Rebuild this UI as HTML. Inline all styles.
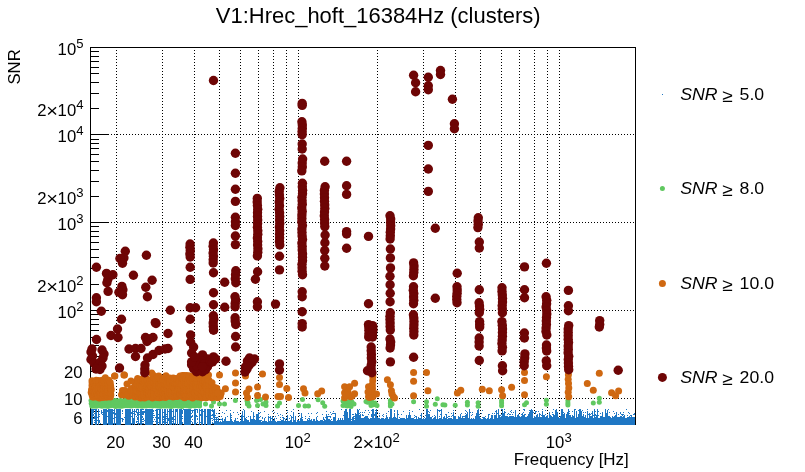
<!DOCTYPE html>
<html lang="en"><head><meta charset="utf-8"><title>V1:Hrec_hoft_16384Hz (clusters)</title>
<style>html,body{margin:0;padding:0;background:#fff;overflow:hidden}svg{display:block}</style></head>
<body>
<svg width="805" height="472" viewBox="0 0 805 472" style="display:block">
<rect width="805" height="472" fill="#fff"/>
<path d="M116.5 47V424 M162.5 47V424 M194.5 47V424 M219.5 47V424 M240.5 47V424 M258.5 47V424 M273.5 47V424 M286.5 47V424 M298.5 47V424 M377.5 47V424 M423.5 47V424 M455.5 47V424 M480.5 47V424 M501.5 47V424 M519.5 47V424 M534.5 47V424 M547.5 47V424 M559.5 47V424 M90 398.5H635 M90 310.5H635 M90 222.5H635 M90 134.5H635" stroke="#000" stroke-width="1" stroke-dasharray="1 2" fill="none" shape-rendering="crispEdges"/>
<rect x="90.5" y="47.5" width="545" height="377" fill="none" stroke="#000" stroke-width="1" shape-rendering="crispEdges"/>
<path d="M90 398.5h18 M90 371.5h9 M90 356.5h9 M90 345.5h9 M90 337.5h9 M90 330.5h9 M90 324.5h9 M90 319.5h9 M90 314.5h9 M90 310.5h18 M90 284.5h9 M90 268.5h9 M90 257.5h9 M90 249.5h9 M90 242.5h9 M90 236.5h9 M90 231.5h9 M90 226.5h9 M90 222.5h18 M90 196.5h9 M90 181.5h9 M90 170.5h9 M90 161.5h9 M90 154.5h9 M90 148.5h9 M90 143.5h9 M90 139.5h9 M90 134.5h18 M90 108.5h9 M90 93.5h9 M90 82.5h9 M90 73.5h9 M90 67.5h9 M90 61.5h9 M90 56.5h9 M90 51.5h9 M90 47.5h18 M90 417.5h9 M90 411.5h9 M90 406.5h9 M90 402.5h9" stroke="#000" stroke-width="1" fill="none" shape-rendering="crispEdges"/>
<path d="M91 409h1v16h-1zM92 409h1v16h-1zM93 409h1v1h-1zM93 410h1v1h-1zM93 411h1v1h-1zM93 412h1v1h-1zM93 414h1v1h-1zM93 415h1v1h-1zM93 418h1v1h-1zM94 409h1v1h-1zM94 413h1v1h-1zM94 416h1v1h-1zM94 417h1v1h-1zM94 418h1v1h-1zM94 420h1v1h-1zM94 422h1v1h-1zM95 409h1v16h-1zM96 409h1v16h-1zM97 417h1v1h-1zM97 420h1v1h-1zM98 409h1v16h-1zM99 411h1v1h-1zM99 414h1v1h-1zM99 416h1v1h-1zM99 420h1v1h-1zM99 421h1v1h-1zM99 422h1v1h-1zM100 423h1v1h-1zM101 410h1v1h-1zM101 411h1v1h-1zM101 412h1v1h-1zM101 413h1v1h-1zM102 412h1v1h-1zM102 414h1v1h-1zM103 409h1v16h-1zM104 409h1v16h-1zM105 409h1v16h-1zM106 409h1v16h-1zM107 410h1v1h-1zM107 411h1v1h-1zM107 416h1v1h-1zM107 423h1v1h-1zM108 409h1v16h-1zM109 409h1v16h-1zM110 409h1v16h-1zM111 409h1v16h-1zM112 409h1v16h-1zM113 410h1v1h-1zM113 412h1v1h-1zM113 413h1v1h-1zM113 418h1v1h-1zM113 423h1v1h-1zM114 409h1v16h-1zM115 413h1v1h-1zM115 414h1v1h-1zM115 417h1v1h-1zM115 423h1v1h-1zM116 409h1v16h-1zM117 409h1v16h-1zM118 409h1v16h-1zM119 409h1v16h-1zM120 409h1v16h-1zM121 418h1v1h-1zM122 410h1v1h-1zM122 411h1v1h-1zM122 413h1v1h-1zM122 418h1v1h-1zM122 419h1v1h-1zM122 420h1v1h-1zM122 421h1v1h-1zM123 419h1v1h-1zM124 417h1v1h-1zM125 409h1v16h-1zM126 409h1v16h-1zM127 409h1v16h-1zM128 409h1v16h-1zM129 409h1v16h-1zM130 409h1v16h-1zM131 412h1v1h-1zM131 413h1v1h-1zM131 416h1v1h-1zM131 423h1v1h-1zM132 409h1v16h-1zM133 411h1v1h-1zM133 413h1v1h-1zM133 418h1v1h-1zM133 419h1v1h-1zM133 420h1v1h-1zM133 421h1v1h-1zM133 422h1v1h-1zM133 423h1v1h-1zM134 409h1v16h-1zM135 411h1v1h-1zM135 414h1v1h-1zM136 409h1v1h-1zM136 410h1v1h-1zM136 411h1v1h-1zM136 412h1v1h-1zM136 416h1v1h-1zM136 421h1v1h-1zM136 422h1v1h-1zM137 409h1v1h-1zM137 412h1v1h-1zM137 413h1v1h-1zM137 414h1v1h-1zM137 415h1v1h-1zM137 417h1v1h-1zM137 418h1v1h-1zM137 419h1v1h-1zM137 421h1v1h-1zM137 423h1v1h-1zM138 409h1v16h-1zM139 412h1v1h-1zM139 414h1v1h-1zM139 423h1v1h-1zM140 409h1v16h-1zM141 409h1v16h-1zM142 409h1v1h-1zM142 411h1v1h-1zM142 412h1v1h-1zM142 413h1v1h-1zM142 414h1v1h-1zM142 416h1v1h-1zM142 417h1v1h-1zM142 419h1v1h-1zM142 421h1v1h-1zM142 423h1v1h-1zM143 409h1v1h-1zM143 411h1v1h-1zM143 412h1v1h-1zM143 413h1v1h-1zM143 414h1v1h-1zM143 418h1v1h-1zM143 419h1v1h-1zM143 421h1v1h-1zM143 423h1v1h-1zM144 411h1v1h-1zM144 412h1v1h-1zM144 420h1v1h-1zM145 409h1v16h-1zM146 409h1v16h-1zM147 409h1v16h-1zM148 409h1v16h-1zM149 409h1v16h-1zM150 409h1v16h-1zM151 409h1v16h-1zM152 409h1v16h-1zM153 410h1v1h-1zM153 411h1v1h-1zM153 413h1v1h-1zM153 415h1v1h-1zM153 417h1v1h-1zM153 421h1v1h-1zM154 415h1v1h-1zM154 419h1v1h-1zM155 410h1v1h-1zM155 417h1v1h-1zM155 421h1v1h-1zM156 409h1v16h-1zM157 409h1v16h-1zM158 409h1v1h-1zM158 414h1v1h-1zM158 417h1v1h-1zM158 418h1v1h-1zM158 422h1v1h-1zM159 409h1v16h-1zM160 409h1v16h-1zM162 409h1v16h-1zM163 412h1v1h-1zM163 416h1v1h-1zM163 417h1v1h-1zM163 419h1v1h-1zM163 421h1v1h-1zM163 422h1v1h-1zM164 409h1v16h-1zM165 409h1v16h-1zM166 414h1v1h-1zM166 416h1v1h-1zM166 418h1v1h-1zM166 422h1v1h-1zM167 409h1v16h-1zM168 411h1v1h-1zM168 418h1v1h-1zM168 419h1v1h-1zM168 420h1v1h-1zM169 409h1v16h-1zM170 409h1v16h-1zM171 409h1v16h-1zM172 411h1v1h-1zM172 417h1v1h-1zM172 418h1v1h-1zM172 419h1v1h-1zM172 421h1v1h-1zM172 423h1v1h-1zM173 409h1v16h-1zM174 416h1v1h-1zM174 419h1v1h-1zM174 423h1v1h-1zM175 409h1v16h-1zM176 409h1v1h-1zM176 410h1v1h-1zM176 411h1v1h-1zM177 409h1v16h-1zM179 409h1v16h-1zM180 409h1v16h-1zM181 409h1v16h-1zM182 410h1v1h-1zM182 411h1v1h-1zM182 412h1v1h-1zM182 413h1v1h-1zM182 416h1v1h-1zM182 418h1v1h-1zM182 422h1v1h-1zM182 423h1v1h-1zM183 409h1v1h-1zM184 409h1v16h-1zM185 409h1v16h-1zM186 409h1v16h-1zM187 409h1v16h-1zM188 409h1v16h-1zM189 409h1v16h-1zM190 409h1v16h-1zM191 410h1v1h-1zM191 413h1v1h-1zM191 416h1v1h-1zM191 417h1v1h-1zM191 421h1v1h-1zM192 410h1v1h-1zM192 411h1v1h-1zM192 412h1v1h-1zM192 415h1v1h-1zM192 416h1v1h-1zM192 419h1v1h-1zM192 422h1v1h-1zM192 423h1v1h-1zM193 410h1v1h-1zM194 409h1v16h-1zM195 409h1v16h-1zM196 409h1v1h-1zM196 415h1v1h-1zM196 416h1v1h-1zM196 423h1v1h-1zM197 409h1v1h-1zM197 410h1v1h-1zM197 411h1v1h-1zM197 412h1v1h-1zM197 416h1v1h-1zM197 418h1v1h-1zM197 419h1v1h-1zM197 422h1v1h-1zM199 409h1v16h-1zM200 410h1v1h-1zM200 414h1v1h-1zM200 415h1v1h-1zM200 422h1v1h-1zM201 409h1v16h-1zM202 409h1v16h-1zM203 411h1v1h-1zM204 409h1v16h-1zM205 409h1v16h-1zM206 416h1v1h-1zM207 409h1v16h-1zM208 409h1v16h-1zM209 409h1v16h-1zM210 409h1v16h-1zM211 410h1v1h-1zM211 415h1v1h-1zM211 418h1v1h-1zM212 409h1v1h-1zM212 410h1v1h-1zM212 411h1v1h-1zM212 414h1v1h-1zM212 415h1v1h-1zM212 418h1v1h-1zM212 420h1v1h-1zM212 422h1v1h-1zM212 423h1v1h-1zM213 410h1v1h-1zM213 411h1v1h-1zM213 412h1v1h-1zM213 413h1v1h-1zM213 414h1v1h-1zM213 415h1v1h-1zM213 416h1v1h-1zM213 417h1v1h-1zM213 419h1v1h-1zM213 423h1v1h-1zM214 409h1v16h-1zM215 421h1v4h-1zM215 415h1v1h-1zM215 417h1v1h-1zM215 419h1v1h-1zM216 417h1v8h-1zM216 413h1v1h-1zM217 421h1v4h-1zM217 417h1v1h-1zM217 419h1v1h-1zM218 418h1v7h-1zM218 413h1v1h-1zM218 416h1v1h-1zM219 422h1v3h-1zM220 421h1v4h-1zM220 419h1v1h-1zM221 422h1v3h-1zM221 416h1v1h-1zM221 419h1v1h-1zM222 419h1v6h-1zM222 412h1v1h-1zM222 418h1v1h-1zM223 422h1v3h-1zM223 421h1v1h-1zM224 419h1v6h-1zM224 413h1v1h-1zM225 418h1v7h-1zM225 417h1v1h-1zM226 421h1v4h-1zM226 410h1v1h-1zM227 421h1v4h-1zM227 416h1v1h-1zM228 421h1v4h-1zM229 421h1v4h-1zM230 414h1v11h-1zM230 410h1v1h-1zM230 413h1v1h-1zM231 419h1v6h-1zM231 415h1v1h-1zM231 417h1v1h-1zM232 421h1v4h-1zM233 422h1v3h-1zM233 412h1v1h-1zM234 421h1v4h-1zM234 420h1v1h-1zM235 418h1v7h-1zM236 421h1v4h-1zM237 421h1v4h-1zM237 412h1v1h-1zM237 418h1v1h-1zM238 421h1v4h-1zM238 414h1v1h-1zM239 422h1v3h-1zM240 421h1v4h-1zM241 416h1v9h-1zM241 415h1v1h-1zM242 412h1v13h-1zM242 411h1v1h-1zM243 421h1v4h-1zM243 409h1v1h-1zM243 416h1v1h-1zM244 412h1v13h-1zM244 410h1v1h-1zM244 411h1v1h-1zM245 421h1v4h-1zM245 418h1v1h-1zM245 419h1v1h-1zM245 420h1v1h-1zM246 419h1v6h-1zM246 417h1v1h-1zM247 420h1v5h-1zM248 420h1v5h-1zM248 416h1v1h-1zM249 422h1v3h-1zM250 416h1v9h-1zM251 419h1v6h-1zM251 411h1v1h-1zM252 421h1v4h-1zM252 419h1v1h-1zM252 420h1v1h-1zM253 412h1v13h-1zM254 419h1v6h-1zM254 416h1v1h-1zM255 421h1v4h-1zM255 420h1v1h-1zM256 414h1v11h-1zM257 414h1v11h-1zM258 413h1v12h-1zM258 412h1v1h-1zM259 421h1v4h-1zM259 413h1v1h-1zM259 417h1v1h-1zM259 420h1v1h-1zM260 421h1v4h-1zM260 412h1v1h-1zM260 416h1v1h-1zM260 420h1v1h-1zM261 422h1v3h-1zM261 420h1v1h-1zM262 421h1v4h-1zM262 417h1v1h-1zM262 418h1v1h-1zM263 421h1v4h-1zM264 420h1v5h-1zM264 411h1v1h-1zM264 418h1v1h-1zM264 419h1v1h-1zM265 421h1v4h-1zM265 417h1v1h-1zM266 421h1v4h-1zM267 422h1v3h-1zM268 416h1v9h-1zM268 414h1v1h-1zM269 421h1v4h-1zM269 417h1v1h-1zM270 416h1v9h-1zM271 421h1v4h-1zM271 418h1v1h-1zM272 416h1v9h-1zM272 411h1v1h-1zM273 421h1v4h-1zM273 420h1v1h-1zM274 418h1v7h-1zM274 412h1v1h-1zM275 421h1v4h-1zM275 416h1v1h-1zM276 422h1v3h-1zM276 418h1v1h-1zM277 421h1v4h-1zM277 413h1v1h-1zM278 421h1v4h-1zM278 415h1v1h-1zM279 421h1v4h-1zM280 421h1v4h-1zM280 414h1v1h-1zM280 417h1v1h-1zM280 419h1v1h-1zM281 422h1v3h-1zM281 420h1v1h-1zM281 421h1v1h-1zM282 421h1v4h-1zM282 415h1v1h-1zM282 417h1v1h-1zM282 420h1v1h-1zM283 418h1v7h-1zM283 417h1v1h-1zM284 421h1v4h-1zM284 418h1v1h-1zM285 421h1v4h-1zM285 419h1v1h-1zM285 420h1v1h-1zM286 422h1v3h-1zM286 418h1v1h-1zM286 421h1v1h-1zM287 415h1v10h-1zM287 410h1v1h-1zM287 412h1v1h-1zM288 421h1v4h-1zM289 421h1v4h-1zM289 418h1v1h-1zM290 420h1v5h-1zM290 415h1v1h-1zM291 416h1v9h-1zM291 411h1v1h-1zM292 422h1v3h-1zM292 417h1v1h-1zM293 412h1v13h-1zM293 409h1v1h-1zM294 420h1v5h-1zM295 416h1v9h-1zM296 422h1v3h-1zM297 421h1v4h-1zM297 420h1v1h-1zM298 421h1v4h-1zM298 420h1v1h-1zM299 421h1v4h-1zM299 413h1v1h-1zM299 415h1v1h-1zM300 419h1v6h-1zM300 418h1v1h-1zM301 414h1v11h-1zM301 413h1v1h-1zM302 420h1v5h-1zM302 417h1v1h-1zM302 419h1v1h-1zM303 421h1v4h-1zM304 421h1v4h-1zM305 421h1v4h-1zM305 416h1v1h-1zM305 418h1v1h-1zM306 421h1v4h-1zM307 420h1v5h-1zM307 419h1v1h-1zM308 420h1v5h-1zM308 413h1v1h-1zM308 418h1v1h-1zM309 418h1v7h-1zM309 416h1v1h-1zM310 420h1v5h-1zM311 420h1v5h-1zM311 413h1v1h-1zM311 419h1v1h-1zM312 421h1v4h-1zM313 420h1v5h-1zM313 419h1v1h-1zM314 419h1v6h-1zM315 421h1v4h-1zM316 417h1v8h-1zM316 413h1v1h-1zM317 420h1v5h-1zM317 412h1v1h-1zM317 416h1v1h-1zM318 421h1v4h-1zM319 421h1v4h-1zM320 420h1v5h-1zM321 420h1v5h-1zM322 420h1v5h-1zM322 414h1v1h-1zM323 421h1v4h-1zM323 417h1v1h-1zM323 418h1v1h-1zM323 419h1v1h-1zM324 420h1v5h-1zM324 419h1v1h-1zM325 420h1v5h-1zM325 417h1v1h-1zM326 414h1v11h-1zM326 411h1v1h-1zM327 417h1v8h-1zM327 416h1v1h-1zM328 419h1v6h-1zM328 414h1v1h-1zM328 416h1v1h-1zM329 420h1v5h-1zM329 416h1v1h-1zM329 419h1v1h-1zM330 420h1v5h-1zM330 412h1v1h-1zM330 416h1v1h-1zM330 417h1v1h-1zM331 421h1v4h-1zM331 414h1v1h-1zM331 419h1v1h-1zM332 421h1v4h-1zM332 413h1v1h-1zM333 418h1v7h-1zM333 411h1v1h-1zM333 413h1v1h-1zM333 417h1v1h-1zM334 418h1v7h-1zM334 413h1v1h-1zM334 417h1v1h-1zM335 415h1v10h-1zM335 413h1v1h-1zM335 414h1v1h-1zM336 421h1v4h-1zM337 421h1v4h-1zM337 420h1v1h-1zM338 420h1v5h-1zM338 418h1v1h-1zM338 419h1v1h-1zM339 420h1v5h-1zM340 420h1v5h-1zM340 418h1v1h-1zM340 419h1v1h-1zM341 421h1v4h-1zM341 409h1v1h-1zM341 420h1v1h-1zM342 421h1v4h-1zM342 418h1v1h-1zM342 419h1v1h-1zM342 420h1v1h-1zM343 420h1v5h-1zM343 415h1v1h-1zM344 411h1v14h-1zM345 421h1v4h-1zM345 414h1v1h-1zM346 420h1v5h-1zM346 414h1v1h-1zM346 415h1v1h-1zM346 417h1v1h-1zM347 414h1v11h-1zM347 412h1v1h-1zM347 413h1v1h-1zM348 418h1v7h-1zM349 421h1v4h-1zM349 416h1v1h-1zM349 417h1v1h-1zM349 419h1v1h-1zM349 420h1v1h-1zM350 420h1v5h-1zM351 421h1v4h-1zM351 419h1v1h-1zM352 417h1v8h-1zM352 414h1v1h-1zM353 416h1v9h-1zM353 414h1v1h-1zM354 420h1v5h-1zM354 416h1v1h-1zM354 418h1v1h-1zM355 414h1v11h-1zM355 413h1v1h-1zM356 415h1v10h-1zM356 414h1v1h-1zM357 409h1v16h-1zM358 410h1v15h-1zM359 415h1v10h-1zM359 409h1v1h-1zM359 413h1v1h-1zM360 416h1v9h-1zM360 412h1v1h-1zM360 414h1v1h-1zM360 415h1v1h-1zM361 418h1v7h-1zM362 418h1v7h-1zM362 412h1v1h-1zM362 414h1v1h-1zM362 415h1v1h-1zM363 418h1v7h-1zM363 415h1v1h-1zM364 418h1v7h-1zM364 412h1v1h-1zM364 417h1v1h-1zM365 416h1v9h-1zM365 410h1v1h-1zM366 416h1v9h-1zM367 416h1v9h-1zM368 418h1v7h-1zM368 410h1v1h-1zM368 414h1v1h-1zM369 419h1v6h-1zM369 412h1v1h-1zM370 418h1v7h-1zM371 418h1v7h-1zM371 410h1v1h-1zM371 414h1v1h-1zM371 415h1v1h-1zM371 416h1v1h-1zM372 418h1v7h-1zM372 411h1v1h-1zM372 415h1v1h-1zM373 417h1v8h-1zM373 410h1v1h-1zM373 413h1v1h-1zM373 416h1v1h-1zM374 418h1v7h-1zM374 414h1v1h-1zM374 415h1v1h-1zM375 412h1v13h-1zM375 410h1v1h-1zM376 419h1v6h-1zM376 418h1v1h-1zM377 417h1v8h-1zM377 412h1v1h-1zM378 418h1v7h-1zM379 418h1v7h-1zM379 413h1v1h-1zM379 415h1v1h-1zM379 416h1v1h-1zM380 419h1v6h-1zM381 418h1v7h-1zM382 419h1v6h-1zM382 415h1v1h-1zM382 418h1v1h-1zM383 419h1v6h-1zM383 414h1v1h-1zM383 416h1v1h-1zM383 418h1v1h-1zM384 419h1v6h-1zM385 418h1v7h-1zM386 415h1v10h-1zM386 413h1v1h-1zM387 418h1v7h-1zM387 417h1v1h-1zM388 419h1v6h-1zM388 411h1v1h-1zM389 417h1v8h-1zM390 409h1v16h-1zM391 418h1v7h-1zM391 416h1v1h-1zM392 419h1v6h-1zM392 418h1v1h-1zM393 418h1v7h-1zM393 417h1v1h-1zM394 413h1v12h-1zM394 410h1v1h-1zM394 411h1v1h-1zM395 417h1v8h-1zM396 419h1v6h-1zM396 418h1v1h-1zM397 410h1v15h-1zM398 419h1v6h-1zM398 414h1v1h-1zM399 419h1v6h-1zM399 417h1v1h-1zM400 419h1v6h-1zM400 418h1v1h-1zM401 418h1v7h-1zM401 414h1v1h-1zM402 418h1v7h-1zM403 419h1v6h-1zM403 411h1v1h-1zM403 418h1v1h-1zM404 418h1v7h-1zM405 419h1v6h-1zM406 417h1v8h-1zM406 415h1v1h-1zM406 416h1v1h-1zM407 419h1v6h-1zM407 418h1v1h-1zM408 415h1v10h-1zM409 412h1v13h-1zM409 410h1v1h-1zM410 415h1v10h-1zM411 418h1v7h-1zM412 418h1v7h-1zM412 411h1v1h-1zM413 418h1v7h-1zM414 419h1v6h-1zM414 415h1v1h-1zM414 417h1v1h-1zM415 419h1v6h-1zM415 416h1v1h-1zM416 419h1v6h-1zM416 416h1v1h-1zM416 417h1v1h-1zM416 418h1v1h-1zM417 419h1v6h-1zM418 418h1v7h-1zM418 417h1v1h-1zM419 418h1v7h-1zM419 409h1v1h-1zM420 418h1v7h-1zM420 415h1v1h-1zM421 413h1v12h-1zM422 419h1v6h-1zM423 418h1v7h-1zM424 419h1v6h-1zM424 417h1v1h-1zM425 419h1v6h-1zM425 415h1v1h-1zM425 418h1v1h-1zM426 417h1v8h-1zM427 409h1v16h-1zM428 414h1v11h-1zM428 411h1v1h-1zM429 414h1v11h-1zM429 412h1v1h-1zM430 419h1v6h-1zM430 410h1v1h-1zM430 417h1v1h-1zM430 418h1v1h-1zM431 417h1v8h-1zM432 419h1v6h-1zM432 416h1v1h-1zM433 418h1v7h-1zM434 417h1v8h-1zM434 415h1v1h-1zM435 419h1v6h-1zM435 416h1v1h-1zM435 417h1v1h-1zM435 418h1v1h-1zM436 419h1v6h-1zM437 409h1v16h-1zM438 419h1v6h-1zM438 410h1v1h-1zM439 418h1v7h-1zM439 410h1v1h-1zM439 411h1v1h-1zM439 416h1v1h-1zM440 418h1v7h-1zM440 410h1v1h-1zM440 414h1v1h-1zM441 409h1v16h-1zM442 419h1v6h-1zM443 418h1v7h-1zM443 417h1v1h-1zM444 416h1v9h-1zM445 418h1v7h-1zM445 414h1v1h-1zM446 414h1v11h-1zM447 419h1v6h-1zM447 417h1v1h-1zM448 419h1v6h-1zM448 412h1v1h-1zM448 416h1v1h-1zM448 418h1v1h-1zM449 418h1v7h-1zM449 416h1v1h-1zM450 418h1v7h-1zM451 418h1v7h-1zM451 413h1v1h-1zM451 416h1v1h-1zM452 419h1v6h-1zM452 415h1v1h-1zM453 413h1v12h-1zM453 410h1v1h-1zM453 412h1v1h-1zM454 418h1v7h-1zM454 416h1v1h-1zM454 417h1v1h-1zM455 418h1v7h-1zM455 416h1v1h-1zM455 417h1v1h-1zM456 419h1v6h-1zM457 419h1v6h-1zM458 416h1v9h-1zM459 417h1v8h-1zM460 414h1v11h-1zM461 418h1v7h-1zM461 413h1v1h-1zM462 416h1v9h-1zM463 418h1v7h-1zM463 416h1v1h-1zM464 418h1v7h-1zM464 416h1v1h-1zM465 415h1v10h-1zM465 410h1v1h-1zM465 413h1v1h-1zM466 414h1v11h-1zM466 411h1v1h-1zM467 412h1v13h-1zM468 418h1v7h-1zM469 409h1v16h-1zM470 419h1v6h-1zM470 412h1v1h-1zM471 418h1v7h-1zM471 415h1v1h-1zM472 419h1v6h-1zM472 412h1v1h-1zM472 414h1v1h-1zM473 418h1v7h-1zM474 419h1v6h-1zM475 416h1v9h-1zM476 413h1v12h-1zM477 410h1v15h-1zM478 416h1v9h-1zM478 415h1v1h-1zM479 416h1v9h-1zM479 414h1v1h-1zM480 418h1v7h-1zM481 419h1v6h-1zM481 413h1v1h-1zM482 419h1v6h-1zM482 410h1v1h-1zM482 417h1v1h-1zM483 417h1v8h-1zM484 418h1v7h-1zM484 417h1v1h-1zM485 418h1v7h-1zM485 416h1v1h-1zM486 419h1v6h-1zM487 419h1v6h-1zM487 418h1v1h-1zM488 415h1v10h-1zM488 414h1v1h-1zM489 419h1v6h-1zM489 414h1v1h-1zM490 418h1v7h-1zM491 417h1v8h-1zM491 415h1v1h-1zM491 416h1v1h-1zM492 416h1v9h-1zM492 413h1v1h-1zM492 415h1v1h-1zM493 419h1v6h-1zM494 415h1v10h-1zM494 413h1v1h-1zM495 415h1v10h-1zM495 411h1v1h-1zM496 412h1v13h-1zM496 410h1v1h-1zM496 411h1v1h-1zM497 418h1v7h-1zM497 413h1v1h-1zM498 409h1v16h-1zM499 415h1v10h-1zM500 417h1v8h-1zM500 415h1v1h-1zM501 416h1v9h-1zM501 409h1v1h-1zM501 414h1v1h-1zM502 417h1v8h-1zM502 413h1v1h-1zM503 413h1v12h-1zM504 412h1v13h-1zM504 409h1v1h-1zM504 411h1v1h-1zM505 416h1v9h-1zM505 412h1v1h-1zM506 416h1v9h-1zM507 416h1v9h-1zM507 414h1v1h-1zM508 417h1v8h-1zM508 413h1v1h-1zM509 417h1v8h-1zM509 414h1v1h-1zM509 416h1v1h-1zM510 416h1v9h-1zM510 411h1v1h-1zM510 414h1v1h-1zM511 416h1v9h-1zM511 410h1v1h-1zM511 412h1v1h-1zM512 416h1v9h-1zM512 414h1v1h-1zM513 417h1v8h-1zM513 412h1v1h-1zM513 416h1v1h-1zM514 417h1v8h-1zM515 410h1v15h-1zM516 418h1v7h-1zM516 417h1v1h-1zM517 417h1v8h-1zM517 415h1v1h-1zM517 416h1v1h-1zM518 414h1v11h-1zM519 417h1v8h-1zM519 416h1v1h-1zM520 417h1v8h-1zM521 416h1v9h-1zM521 414h1v1h-1zM522 413h1v12h-1zM523 416h1v9h-1zM523 409h1v1h-1zM523 412h1v1h-1zM523 415h1v1h-1zM524 415h1v10h-1zM524 409h1v1h-1zM524 410h1v1h-1zM524 414h1v1h-1zM525 417h1v8h-1zM525 414h1v1h-1zM526 417h1v8h-1zM527 416h1v9h-1zM528 414h1v11h-1zM529 412h1v13h-1zM529 410h1v1h-1zM530 412h1v13h-1zM530 410h1v1h-1zM530 411h1v1h-1zM531 409h1v16h-1zM532 410h1v15h-1zM533 418h1v7h-1zM533 412h1v1h-1zM534 416h1v9h-1zM535 417h1v8h-1zM535 411h1v1h-1zM535 412h1v1h-1zM535 413h1v1h-1zM536 416h1v9h-1zM536 411h1v1h-1zM536 415h1v1h-1zM537 415h1v10h-1zM537 414h1v1h-1zM538 417h1v8h-1zM538 411h1v1h-1zM539 413h1v12h-1zM540 417h1v8h-1zM540 414h1v1h-1zM541 417h1v8h-1zM541 415h1v1h-1zM542 411h1v14h-1zM542 409h1v1h-1zM543 415h1v10h-1zM544 416h1v9h-1zM544 415h1v1h-1zM545 417h1v8h-1zM545 410h1v1h-1zM545 414h1v1h-1zM546 417h1v8h-1zM546 416h1v1h-1zM547 416h1v9h-1zM547 415h1v1h-1zM548 418h1v7h-1zM549 412h1v13h-1zM550 415h1v10h-1zM551 418h1v7h-1zM551 416h1v1h-1zM551 417h1v1h-1zM552 417h1v8h-1zM552 412h1v1h-1zM552 414h1v1h-1zM553 414h1v11h-1zM553 409h1v1h-1zM554 416h1v9h-1zM554 415h1v1h-1zM555 410h1v15h-1zM556 409h1v16h-1zM557 413h1v12h-1zM557 412h1v1h-1zM558 417h1v8h-1zM559 418h1v7h-1zM560 416h1v9h-1zM561 409h1v16h-1zM562 410h1v15h-1zM562 409h1v1h-1zM563 415h1v10h-1zM563 412h1v1h-1zM563 414h1v1h-1zM564 414h1v11h-1zM564 413h1v1h-1zM565 418h1v7h-1zM566 416h1v9h-1zM566 414h1v1h-1zM566 415h1v1h-1zM567 412h1v13h-1zM568 417h1v8h-1zM568 410h1v1h-1zM568 411h1v1h-1zM569 415h1v10h-1zM569 411h1v1h-1zM569 413h1v1h-1zM570 415h1v10h-1zM571 417h1v8h-1zM572 415h1v10h-1zM572 411h1v1h-1zM573 416h1v9h-1zM574 409h1v16h-1zM575 418h1v7h-1zM575 409h1v1h-1zM576 412h1v13h-1zM576 411h1v1h-1zM577 417h1v8h-1zM578 415h1v10h-1zM578 410h1v1h-1zM578 414h1v1h-1zM579 412h1v13h-1zM579 409h1v1h-1zM579 410h1v1h-1zM579 411h1v1h-1zM580 409h1v16h-1zM581 411h1v14h-1zM582 417h1v8h-1zM582 410h1v1h-1zM582 416h1v1h-1zM583 416h1v9h-1zM583 412h1v1h-1zM583 414h1v1h-1zM583 415h1v1h-1zM584 417h1v8h-1zM585 415h1v10h-1zM585 412h1v1h-1zM586 418h1v7h-1zM587 412h1v13h-1zM587 409h1v1h-1zM587 411h1v1h-1zM588 418h1v7h-1zM588 414h1v1h-1zM589 414h1v11h-1zM589 413h1v1h-1zM590 417h1v8h-1zM590 414h1v1h-1zM590 416h1v1h-1zM591 416h1v9h-1zM591 413h1v1h-1zM592 411h1v14h-1zM593 418h1v7h-1zM593 415h1v1h-1zM594 409h1v16h-1zM595 417h1v8h-1zM595 411h1v1h-1zM595 414h1v1h-1zM595 415h1v1h-1zM596 416h1v9h-1zM596 415h1v1h-1zM597 409h1v16h-1zM598 418h1v7h-1zM598 411h1v1h-1zM598 415h1v1h-1zM599 418h1v7h-1zM600 416h1v9h-1zM600 413h1v1h-1zM601 416h1v9h-1zM602 415h1v10h-1zM602 412h1v1h-1zM602 413h1v1h-1zM602 414h1v1h-1zM603 417h1v8h-1zM604 417h1v8h-1zM605 409h1v16h-1zM606 413h1v12h-1zM607 410h1v15h-1zM608 416h1v9h-1zM608 409h1v1h-1zM609 416h1v9h-1zM609 412h1v1h-1zM610 417h1v8h-1zM611 418h1v7h-1zM612 417h1v8h-1zM612 416h1v1h-1zM613 417h1v8h-1zM613 411h1v1h-1zM614 416h1v9h-1zM614 413h1v1h-1zM615 415h1v10h-1zM616 412h1v13h-1zM617 417h1v8h-1zM618 417h1v8h-1zM618 414h1v1h-1zM619 417h1v8h-1zM620 416h1v9h-1zM620 412h1v1h-1zM620 413h1v1h-1zM621 416h1v9h-1zM621 414h1v1h-1zM622 417h1v8h-1zM622 414h1v1h-1zM622 415h1v1h-1zM623 416h1v9h-1zM623 412h1v1h-1zM623 414h1v1h-1zM624 415h1v10h-1zM625 418h1v7h-1zM626 418h1v7h-1zM626 409h1v1h-1zM627 418h1v7h-1zM627 415h1v1h-1zM627 417h1v1h-1zM628 417h1v8h-1zM628 412h1v1h-1zM629 416h1v9h-1zM629 413h1v1h-1zM630 417h1v8h-1zM630 415h1v1h-1zM631 415h1v10h-1zM632 417h1v8h-1zM633 417h1v8h-1zM633 414h1v1h-1zM634 417h1v8h-1zM634 413h1v1h-1zM634 414h1v1h-1zM345 409h1v16h-1zM346 409h1v16h-1zM349 409h1v16h-1zM350 409h1v16h-1zM372 409h1v16h-1zM373 409h1v16h-1zM376 409h1v16h-1zM391 409h1v16h-1zM426 409h1v16h-1zM478 409h1v16h-1zM502 409h1v16h-1zM568 409h1v16h-1z" fill="#1f77c4" shape-rendering="crispEdges"/>
<g fill="#60c860"><circle cx="91.0" cy="400.4" r="2.5"/><circle cx="91.2" cy="403.5" r="2.5"/><circle cx="91.9" cy="406.2" r="2.5"/><circle cx="93.5" cy="400.9" r="2.5"/><circle cx="93.5" cy="403.1" r="2.5"/><circle cx="94.1" cy="406.1" r="2.5"/><circle cx="96.1" cy="400.7" r="2.5"/><circle cx="96.4" cy="403.3" r="2.5"/><circle cx="96.2" cy="406.2" r="2.5"/><circle cx="98.5" cy="400.5" r="2.5"/><circle cx="98.3" cy="403.4" r="2.5"/><circle cx="97.9" cy="405.8" r="2.5"/><circle cx="100.4" cy="400.3" r="2.5"/><circle cx="100.7" cy="403.0" r="2.5"/><circle cx="99.8" cy="405.7" r="2.5"/><circle cx="102.9" cy="400.5" r="2.5"/><circle cx="102.1" cy="402.9" r="2.5"/><circle cx="102.0" cy="406.2" r="2.5"/><circle cx="104.8" cy="400.8" r="2.5"/><circle cx="104.9" cy="403.0" r="2.5"/><circle cx="104.8" cy="405.9" r="2.5"/><circle cx="107.2" cy="400.9" r="2.5"/><circle cx="107.3" cy="403.0" r="2.5"/><circle cx="107.3" cy="406.3" r="2.5"/><circle cx="109.5" cy="400.3" r="2.5"/><circle cx="108.8" cy="403.0" r="2.5"/><circle cx="108.6" cy="406.3" r="2.5"/><circle cx="111.6" cy="400.7" r="2.5"/><circle cx="111.6" cy="403.4" r="2.5"/><circle cx="111.1" cy="405.7" r="2.5"/><circle cx="113.1" cy="400.8" r="2.5"/><circle cx="113.2" cy="403.2" r="2.5"/><circle cx="113.4" cy="405.6" r="2.5"/><circle cx="115.5" cy="400.4" r="2.5"/><circle cx="115.9" cy="403.2" r="2.5"/><circle cx="115.5" cy="406.4" r="2.5"/><circle cx="117.9" cy="400.9" r="2.5"/><circle cx="118.0" cy="402.9" r="2.5"/><circle cx="117.8" cy="405.9" r="2.5"/><circle cx="120.4" cy="400.5" r="2.5"/><circle cx="120.3" cy="403.3" r="2.5"/><circle cx="119.8" cy="406.3" r="2.5"/><circle cx="121.9" cy="400.9" r="2.5"/><circle cx="122.0" cy="402.9" r="2.5"/><circle cx="122.0" cy="406.2" r="2.5"/><circle cx="125.0" cy="400.2" r="2.5"/><circle cx="124.5" cy="403.3" r="2.5"/><circle cx="124.8" cy="405.7" r="2.5"/><circle cx="126.7" cy="400.5" r="2.5"/><circle cx="127.0" cy="403.1" r="2.5"/><circle cx="127.1" cy="405.8" r="2.5"/><circle cx="128.6" cy="400.8" r="2.5"/><circle cx="128.9" cy="403.0" r="2.5"/><circle cx="129.0" cy="405.7" r="2.5"/><circle cx="131.4" cy="400.8" r="2.5"/><circle cx="131.4" cy="403.4" r="2.5"/><circle cx="131.0" cy="405.9" r="2.5"/><circle cx="133.2" cy="400.9" r="2.5"/><circle cx="132.9" cy="403.6" r="2.5"/><circle cx="132.8" cy="405.8" r="2.5"/><circle cx="135.3" cy="400.9" r="2.5"/><circle cx="135.5" cy="403.2" r="2.5"/><circle cx="135.9" cy="405.8" r="2.5"/><circle cx="137.7" cy="400.6" r="2.5"/><circle cx="138.0" cy="403.5" r="2.5"/><circle cx="137.8" cy="405.9" r="2.5"/><circle cx="139.7" cy="400.3" r="2.5"/><circle cx="140.2" cy="403.4" r="2.5"/><circle cx="140.1" cy="405.7" r="2.5"/><circle cx="142.0" cy="400.8" r="2.5"/><circle cx="142.2" cy="403.0" r="2.5"/><circle cx="142.1" cy="406.3" r="2.5"/><circle cx="144.0" cy="400.4" r="2.5"/><circle cx="144.1" cy="403.5" r="2.5"/><circle cx="144.6" cy="405.7" r="2.5"/><circle cx="146.2" cy="400.4" r="2.5"/><circle cx="146.3" cy="403.3" r="2.5"/><circle cx="146.2" cy="405.9" r="2.5"/><circle cx="148.4" cy="401.0" r="2.5"/><circle cx="148.9" cy="403.0" r="2.5"/><circle cx="149.2" cy="405.7" r="2.5"/><circle cx="150.8" cy="401.0" r="2.5"/><circle cx="151.2" cy="403.5" r="2.5"/><circle cx="150.8" cy="405.8" r="2.5"/><circle cx="153.2" cy="400.3" r="2.5"/><circle cx="152.8" cy="403.2" r="2.5"/><circle cx="152.6" cy="405.9" r="2.5"/><circle cx="155.6" cy="400.8" r="2.5"/><circle cx="155.3" cy="403.4" r="2.5"/><circle cx="155.3" cy="405.7" r="2.5"/><circle cx="157.6" cy="400.5" r="2.5"/><circle cx="157.7" cy="403.6" r="2.5"/><circle cx="157.4" cy="406.1" r="2.5"/><circle cx="159.9" cy="400.5" r="2.5"/><circle cx="159.4" cy="403.5" r="2.5"/><circle cx="160.1" cy="406.2" r="2.5"/><circle cx="162.1" cy="400.9" r="2.5"/><circle cx="162.1" cy="403.4" r="2.5"/><circle cx="161.9" cy="405.9" r="2.5"/><circle cx="164.2" cy="400.3" r="2.5"/><circle cx="164.0" cy="403.5" r="2.5"/><circle cx="164.3" cy="406.1" r="2.5"/><circle cx="166.1" cy="400.5" r="2.5"/><circle cx="166.3" cy="403.4" r="2.5"/><circle cx="166.2" cy="406.1" r="2.5"/><circle cx="168.9" cy="400.3" r="2.5"/><circle cx="168.7" cy="403.5" r="2.5"/><circle cx="168.4" cy="406.0" r="2.5"/><circle cx="171.2" cy="400.2" r="2.5"/><circle cx="170.7" cy="403.0" r="2.5"/><circle cx="171.0" cy="406.4" r="2.5"/><circle cx="172.9" cy="400.3" r="2.5"/><circle cx="173.0" cy="403.3" r="2.5"/><circle cx="173.1" cy="406.0" r="2.5"/><circle cx="175.2" cy="400.9" r="2.5"/><circle cx="175.1" cy="403.2" r="2.5"/><circle cx="175.5" cy="405.8" r="2.5"/><circle cx="177.5" cy="400.5" r="2.5"/><circle cx="177.6" cy="403.0" r="2.5"/><circle cx="177.8" cy="405.9" r="2.5"/><circle cx="179.1" cy="400.4" r="2.5"/><circle cx="179.4" cy="402.9" r="2.5"/><circle cx="179.4" cy="405.9" r="2.5"/><circle cx="181.9" cy="400.5" r="2.5"/><circle cx="181.5" cy="403.1" r="2.5"/><circle cx="181.9" cy="406.4" r="2.5"/><circle cx="183.9" cy="400.4" r="2.5"/><circle cx="184.2" cy="403.2" r="2.5"/><circle cx="183.6" cy="405.7" r="2.5"/><circle cx="186.4" cy="400.8" r="2.5"/><circle cx="186.2" cy="403.3" r="2.5"/><circle cx="186.2" cy="405.8" r="2.5"/><circle cx="188.8" cy="400.5" r="2.5"/><circle cx="188.4" cy="403.6" r="2.5"/><circle cx="188.6" cy="406.0" r="2.5"/><circle cx="190.3" cy="400.6" r="2.5"/><circle cx="190.1" cy="403.6" r="2.5"/><circle cx="190.4" cy="406.3" r="2.5"/><circle cx="192.5" cy="400.5" r="2.5"/><circle cx="192.5" cy="403.2" r="2.5"/><circle cx="192.4" cy="405.6" r="2.5"/><circle cx="195.1" cy="400.4" r="2.5"/><circle cx="194.6" cy="403.1" r="2.5"/><circle cx="194.9" cy="405.9" r="2.5"/><circle cx="197.2" cy="400.7" r="2.5"/><circle cx="197.0" cy="403.6" r="2.5"/><circle cx="197.5" cy="405.6" r="2.5"/><circle cx="199.6" cy="400.9" r="2.5"/><circle cx="199.6" cy="403.0" r="2.5"/><circle cx="199.6" cy="406.1" r="2.5"/><circle cx="199.5" cy="403.0" r="2.5"/><circle cx="205.5" cy="404.0" r="2.5"/><circle cx="211.5" cy="406.0" r="2.5"/><circle cx="213.5" cy="402.0" r="2.5"/><circle cx="219.5" cy="404.0" r="2.5"/><circle cx="224.5" cy="404.0" r="2.5"/><circle cx="235.4" cy="400.5" r="2.5"/><circle cx="247.4" cy="404.0" r="2.5"/><circle cx="248.0" cy="403.0" r="2.5"/><circle cx="249.0" cy="406.0" r="2.5"/><circle cx="247.0" cy="401.0" r="2.5"/><circle cx="256.5" cy="400.5" r="2.5"/><circle cx="260.5" cy="399.5" r="2.5"/><circle cx="257.5" cy="405.5" r="2.5"/><circle cx="263.0" cy="404.0" r="2.5"/><circle cx="266.0" cy="402.0" r="2.5"/><circle cx="266.0" cy="405.5" r="2.5"/><circle cx="279.5" cy="403.0" r="2.5"/><circle cx="277.5" cy="406.0" r="2.5"/><circle cx="302.5" cy="399.5" r="2.5"/><circle cx="298.5" cy="405.5" r="2.5"/><circle cx="305.0" cy="406.0" r="2.5"/><circle cx="308.5" cy="406.0" r="2.5"/><circle cx="318.1" cy="399.7" r="2.5"/><circle cx="322.7" cy="402.7" r="2.5"/><circle cx="324.7" cy="406.3" r="2.5"/><circle cx="344.6" cy="401.7" r="2.5"/><circle cx="344.6" cy="405.0" r="2.5"/><circle cx="351.6" cy="403.7" r="2.5"/><circle cx="348.0" cy="404.0" r="2.5"/><circle cx="367.5" cy="402.3" r="2.5"/><circle cx="373.5" cy="404.7" r="2.5"/><circle cx="371.0" cy="403.0" r="2.5"/><circle cx="390.4" cy="403.7" r="2.5"/><circle cx="413.6" cy="401.7" r="2.5"/><circle cx="426.5" cy="401.7" r="2.5"/><circle cx="426.5" cy="406.3" r="2.5"/><circle cx="437.3" cy="398.7" r="2.5"/><circle cx="435.3" cy="404.3" r="2.5"/><circle cx="442.9" cy="404.7" r="2.5"/><circle cx="444.9" cy="405.0" r="2.5"/><circle cx="455.2" cy="405.3" r="2.5"/><circle cx="467.4" cy="402.3" r="2.5"/><circle cx="467.4" cy="405.0" r="2.5"/><circle cx="478.1" cy="402.7" r="2.5"/><circle cx="478.1" cy="406.3" r="2.5"/><circle cx="501.6" cy="400.7" r="2.5"/><circle cx="501.6" cy="405.7" r="2.5"/><circle cx="501.6" cy="403.0" r="2.5"/><circle cx="524.5" cy="404.7" r="2.5"/><circle cx="526.5" cy="402.7" r="2.5"/><circle cx="546.4" cy="400.3" r="2.5"/><circle cx="546.4" cy="404.3" r="2.5"/><circle cx="567.9" cy="400.5" r="2.5"/><circle cx="567.9" cy="405.0" r="2.5"/><circle cx="567.9" cy="403.0" r="2.5"/><circle cx="593.3" cy="403.1" r="2.5"/><circle cx="599.3" cy="398.3" r="2.5"/><circle cx="599.3" cy="402.3" r="2.5"/><circle cx="343.0" cy="401.0" r="2.5"/><circle cx="346.0" cy="402.0" r="2.5"/><circle cx="349.0" cy="401.5" r="2.5"/><circle cx="352.0" cy="402.0" r="2.5"/><circle cx="354.0" cy="404.0" r="2.5"/><circle cx="343.0" cy="405.5" r="2.5"/><circle cx="347.0" cy="406.0" r="2.5"/><circle cx="351.0" cy="406.5" r="2.5"/><circle cx="366.0" cy="401.5" r="2.5"/><circle cx="369.0" cy="402.0" r="2.5"/><circle cx="372.0" cy="402.0" r="2.5"/><circle cx="375.0" cy="403.0" r="2.5"/><circle cx="377.0" cy="405.5" r="2.5"/><circle cx="371.0" cy="405.5" r="2.5"/><circle cx="390.4" cy="400.5" r="2.5"/><circle cx="390.4" cy="403.0" r="2.5"/><circle cx="390.4" cy="406.0" r="2.5"/><circle cx="392.0" cy="404.0" r="2.5"/></g>
<g fill="#cf6811"><circle cx="92.7" cy="397.0" r="3.5"/><circle cx="92.1" cy="395.1" r="3.5"/><circle cx="91.2" cy="392.6" r="3.5"/><circle cx="91.5" cy="389.7" r="3.5"/><circle cx="92.5" cy="387.5" r="3.5"/><circle cx="92.0" cy="385.8" r="3.5"/><circle cx="92.1" cy="382.9" r="3.5"/><circle cx="92.0" cy="380.8" r="3.5"/><circle cx="93.7" cy="397.1" r="3.5"/><circle cx="93.9" cy="394.8" r="3.5"/><circle cx="94.7" cy="392.7" r="3.5"/><circle cx="94.4" cy="390.6" r="3.5"/><circle cx="95.0" cy="387.8" r="3.5"/><circle cx="94.5" cy="385.5" r="3.5"/><circle cx="94.3" cy="383.3" r="3.5"/><circle cx="96.7" cy="397.0" r="3.5"/><circle cx="97.3" cy="395.3" r="3.5"/><circle cx="97.2" cy="393.2" r="3.5"/><circle cx="96.2" cy="390.4" r="3.5"/><circle cx="97.3" cy="388.3" r="3.5"/><circle cx="96.0" cy="385.0" r="3.5"/><circle cx="96.5" cy="382.6" r="3.5"/><circle cx="96.2" cy="380.2" r="3.5"/><circle cx="99.4" cy="397.9" r="3.5"/><circle cx="98.3" cy="395.4" r="3.5"/><circle cx="99.2" cy="392.3" r="3.5"/><circle cx="99.5" cy="390.9" r="3.5"/><circle cx="98.5" cy="388.4" r="3.5"/><circle cx="98.7" cy="385.5" r="3.5"/><circle cx="99.7" cy="383.5" r="3.5"/><circle cx="98.4" cy="380.6" r="3.5"/><circle cx="100.9" cy="396.3" r="3.5"/><circle cx="100.9" cy="395.4" r="3.5"/><circle cx="100.4" cy="392.8" r="3.5"/><circle cx="101.1" cy="389.7" r="3.5"/><circle cx="100.9" cy="388.0" r="3.5"/><circle cx="101.2" cy="385.0" r="3.5"/><circle cx="102.0" cy="383.4" r="3.5"/><circle cx="102.0" cy="380.2" r="3.5"/><circle cx="102.8" cy="397.6" r="3.5"/><circle cx="103.1" cy="394.7" r="3.5"/><circle cx="103.4" cy="393.2" r="3.5"/><circle cx="104.0" cy="390.0" r="3.5"/><circle cx="102.9" cy="388.4" r="3.5"/><circle cx="103.6" cy="385.7" r="3.5"/><circle cx="102.8" cy="382.6" r="3.5"/><circle cx="103.8" cy="380.6" r="3.5"/><circle cx="106.5" cy="397.3" r="3.5"/><circle cx="106.3" cy="394.6" r="3.5"/><circle cx="106.4" cy="392.2" r="3.5"/><circle cx="106.4" cy="390.2" r="3.5"/><circle cx="105.5" cy="388.0" r="3.5"/><circle cx="106.5" cy="385.2" r="3.5"/><circle cx="105.2" cy="383.1" r="3.5"/><circle cx="105.4" cy="380.2" r="3.5"/><circle cx="105.3" cy="377.8" r="3.5"/><circle cx="107.8" cy="396.6" r="3.5"/><circle cx="108.5" cy="394.8" r="3.5"/><circle cx="108.1" cy="392.3" r="3.5"/><circle cx="107.9" cy="389.7" r="3.5"/><circle cx="107.7" cy="387.3" r="3.5"/><circle cx="108.5" cy="385.6" r="3.5"/><circle cx="107.6" cy="383.1" r="3.5"/><circle cx="108.8" cy="380.2" r="3.5"/><circle cx="110.3" cy="397.0" r="3.5"/><circle cx="110.9" cy="395.0" r="3.5"/><circle cx="110.4" cy="392.9" r="3.5"/><circle cx="111.2" cy="390.1" r="3.5"/><circle cx="110.9" cy="388.1" r="3.5"/><circle cx="110.6" cy="385.4" r="3.5"/><circle cx="110.2" cy="382.6" r="3.5"/><circle cx="121.5" cy="394.7" r="3.5"/><circle cx="122.5" cy="390.5" r="3.5"/><circle cx="123.7" cy="395.0" r="3.5"/><circle cx="125.0" cy="390.4" r="3.5"/><circle cx="128.8" cy="396.3" r="3.5"/><circle cx="128.0" cy="394.8" r="3.5"/><circle cx="131.1" cy="390.6" r="3.5"/><circle cx="131.4" cy="388.4" r="3.5"/><circle cx="132.8" cy="395.4" r="3.5"/><circle cx="132.7" cy="393.1" r="3.5"/><circle cx="133.6" cy="390.6" r="3.5"/><circle cx="135.1" cy="397.1" r="3.5"/><circle cx="135.7" cy="395.5" r="3.5"/><circle cx="136.2" cy="393.1" r="3.5"/><circle cx="135.8" cy="390.8" r="3.5"/><circle cx="136.0" cy="388.1" r="3.5"/><circle cx="135.3" cy="384.9" r="3.5"/><circle cx="135.1" cy="382.9" r="3.5"/><circle cx="138.5" cy="397.1" r="3.5"/><circle cx="138.2" cy="395.3" r="3.5"/><circle cx="138.3" cy="392.7" r="3.5"/><circle cx="137.2" cy="390.7" r="3.5"/><circle cx="138.4" cy="387.9" r="3.5"/><circle cx="138.1" cy="385.7" r="3.5"/><circle cx="137.3" cy="383.4" r="3.5"/><circle cx="137.6" cy="380.2" r="3.5"/><circle cx="137.6" cy="378.6" r="3.5"/><circle cx="140.7" cy="398.0" r="3.5"/><circle cx="140.3" cy="395.0" r="3.5"/><circle cx="140.3" cy="392.9" r="3.5"/><circle cx="140.7" cy="390.4" r="3.5"/><circle cx="140.5" cy="387.4" r="3.5"/><circle cx="139.7" cy="385.2" r="3.5"/><circle cx="140.7" cy="382.9" r="3.5"/><circle cx="140.4" cy="380.1" r="3.5"/><circle cx="142.2" cy="397.4" r="3.5"/><circle cx="142.9" cy="395.3" r="3.5"/><circle cx="142.3" cy="392.7" r="3.5"/><circle cx="142.5" cy="390.3" r="3.5"/><circle cx="142.0" cy="388.4" r="3.5"/><circle cx="142.1" cy="386.1" r="3.5"/><circle cx="143.3" cy="382.5" r="3.5"/><circle cx="142.5" cy="381.1" r="3.5"/><circle cx="143.3" cy="378.2" r="3.5"/><circle cx="144.4" cy="398.0" r="3.5"/><circle cx="144.4" cy="395.2" r="3.5"/><circle cx="144.3" cy="392.7" r="3.5"/><circle cx="145.6" cy="389.9" r="3.5"/><circle cx="145.4" cy="387.9" r="3.5"/><circle cx="145.5" cy="385.7" r="3.5"/><circle cx="144.5" cy="383.6" r="3.5"/><circle cx="144.9" cy="380.1" r="3.5"/><circle cx="147.2" cy="396.9" r="3.5"/><circle cx="146.9" cy="394.7" r="3.5"/><circle cx="147.0" cy="392.5" r="3.5"/><circle cx="147.7" cy="389.7" r="3.5"/><circle cx="147.6" cy="388.3" r="3.5"/><circle cx="146.6" cy="386.0" r="3.5"/><circle cx="147.5" cy="383.6" r="3.5"/><circle cx="146.9" cy="380.5" r="3.5"/><circle cx="147.0" cy="378.9" r="3.5"/><circle cx="149.3" cy="396.8" r="3.5"/><circle cx="149.1" cy="394.6" r="3.5"/><circle cx="148.9" cy="393.1" r="3.5"/><circle cx="149.2" cy="390.8" r="3.5"/><circle cx="149.1" cy="387.6" r="3.5"/><circle cx="149.5" cy="385.1" r="3.5"/><circle cx="149.3" cy="383.6" r="3.5"/><circle cx="150.1" cy="381.1" r="3.5"/><circle cx="152.5" cy="398.0" r="3.5"/><circle cx="151.9" cy="395.4" r="3.5"/><circle cx="151.1" cy="393.0" r="3.5"/><circle cx="151.7" cy="390.6" r="3.5"/><circle cx="152.0" cy="387.6" r="3.5"/><circle cx="151.1" cy="386.0" r="3.5"/><circle cx="151.2" cy="383.1" r="3.5"/><circle cx="151.5" cy="380.5" r="3.5"/><circle cx="152.2" cy="378.9" r="3.5"/><circle cx="154.3" cy="396.6" r="3.5"/><circle cx="154.2" cy="395.0" r="3.5"/><circle cx="153.6" cy="392.3" r="3.5"/><circle cx="153.6" cy="390.8" r="3.5"/><circle cx="154.1" cy="387.6" r="3.5"/><circle cx="154.8" cy="386.1" r="3.5"/><circle cx="154.0" cy="382.7" r="3.5"/><circle cx="153.6" cy="380.2" r="3.5"/><circle cx="153.8" cy="377.8" r="3.5"/><circle cx="153.7" cy="375.6" r="3.5"/><circle cx="157.0" cy="397.5" r="3.5"/><circle cx="156.3" cy="395.0" r="3.5"/><circle cx="156.4" cy="392.6" r="3.5"/><circle cx="156.1" cy="389.8" r="3.5"/><circle cx="156.0" cy="388.5" r="3.5"/><circle cx="155.8" cy="385.5" r="3.5"/><circle cx="156.6" cy="383.5" r="3.5"/><circle cx="155.9" cy="380.4" r="3.5"/><circle cx="156.0" cy="378.2" r="3.5"/><circle cx="159.4" cy="397.8" r="3.5"/><circle cx="159.3" cy="394.5" r="3.5"/><circle cx="158.0" cy="393.0" r="3.5"/><circle cx="159.3" cy="390.3" r="3.5"/><circle cx="158.8" cy="387.3" r="3.5"/><circle cx="158.5" cy="386.0" r="3.5"/><circle cx="159.2" cy="383.5" r="3.5"/><circle cx="159.5" cy="380.4" r="3.5"/><circle cx="158.1" cy="377.9" r="3.5"/><circle cx="158.7" cy="376.1" r="3.5"/><circle cx="161.4" cy="397.3" r="3.5"/><circle cx="161.4" cy="395.0" r="3.5"/><circle cx="161.1" cy="392.1" r="3.5"/><circle cx="161.5" cy="390.0" r="3.5"/><circle cx="161.7" cy="388.1" r="3.5"/><circle cx="160.7" cy="385.1" r="3.5"/><circle cx="160.6" cy="383.3" r="3.5"/><circle cx="161.3" cy="380.2" r="3.5"/><circle cx="160.3" cy="378.3" r="3.5"/><circle cx="163.1" cy="396.4" r="3.5"/><circle cx="163.5" cy="394.5" r="3.5"/><circle cx="163.0" cy="392.7" r="3.5"/><circle cx="164.0" cy="390.5" r="3.5"/><circle cx="163.9" cy="387.9" r="3.5"/><circle cx="162.9" cy="385.2" r="3.5"/><circle cx="164.0" cy="383.3" r="3.5"/><circle cx="163.0" cy="380.1" r="3.5"/><circle cx="163.3" cy="378.5" r="3.5"/><circle cx="165.2" cy="397.4" r="3.5"/><circle cx="166.3" cy="394.8" r="3.5"/><circle cx="164.9" cy="392.5" r="3.5"/><circle cx="165.5" cy="390.5" r="3.5"/><circle cx="165.1" cy="388.3" r="3.5"/><circle cx="166.0" cy="385.5" r="3.5"/><circle cx="165.1" cy="383.7" r="3.5"/><circle cx="165.3" cy="381.1" r="3.5"/><circle cx="165.2" cy="378.0" r="3.5"/><circle cx="166.0" cy="375.7" r="3.5"/><circle cx="167.9" cy="396.3" r="3.5"/><circle cx="167.5" cy="395.0" r="3.5"/><circle cx="168.2" cy="393.2" r="3.5"/><circle cx="167.3" cy="390.2" r="3.5"/><circle cx="167.4" cy="388.5" r="3.5"/><circle cx="167.3" cy="385.0" r="3.5"/><circle cx="167.2" cy="383.0" r="3.5"/><circle cx="168.5" cy="381.2" r="3.5"/><circle cx="168.3" cy="378.9" r="3.5"/><circle cx="169.9" cy="396.3" r="3.5"/><circle cx="170.9" cy="395.4" r="3.5"/><circle cx="169.5" cy="392.9" r="3.5"/><circle cx="170.0" cy="390.1" r="3.5"/><circle cx="169.9" cy="387.5" r="3.5"/><circle cx="169.4" cy="385.2" r="3.5"/><circle cx="170.0" cy="383.6" r="3.5"/><circle cx="169.6" cy="381.3" r="3.5"/><circle cx="169.7" cy="378.1" r="3.5"/><circle cx="173.0" cy="396.9" r="3.5"/><circle cx="171.8" cy="395.1" r="3.5"/><circle cx="172.3" cy="393.2" r="3.5"/><circle cx="172.0" cy="390.1" r="3.5"/><circle cx="173.1" cy="387.3" r="3.5"/><circle cx="172.4" cy="385.9" r="3.5"/><circle cx="172.9" cy="382.5" r="3.5"/><circle cx="171.8" cy="380.2" r="3.5"/><circle cx="173.2" cy="378.0" r="3.5"/><circle cx="175.4" cy="396.6" r="3.5"/><circle cx="174.4" cy="395.6" r="3.5"/><circle cx="175.0" cy="392.4" r="3.5"/><circle cx="175.1" cy="390.1" r="3.5"/><circle cx="174.4" cy="387.3" r="3.5"/><circle cx="175.2" cy="386.0" r="3.5"/><circle cx="175.0" cy="383.6" r="3.5"/><circle cx="174.0" cy="380.4" r="3.5"/><circle cx="174.8" cy="378.8" r="3.5"/><circle cx="176.9" cy="396.5" r="3.5"/><circle cx="177.0" cy="395.1" r="3.5"/><circle cx="177.8" cy="392.3" r="3.5"/><circle cx="177.6" cy="390.6" r="3.5"/><circle cx="177.6" cy="388.2" r="3.5"/><circle cx="177.3" cy="385.3" r="3.5"/><circle cx="176.8" cy="382.9" r="3.5"/><circle cx="177.6" cy="380.2" r="3.5"/><circle cx="176.6" cy="378.6" r="3.5"/><circle cx="178.7" cy="396.0" r="3.5"/><circle cx="179.5" cy="394.9" r="3.5"/><circle cx="180.2" cy="393.2" r="3.5"/><circle cx="180.2" cy="390.0" r="3.5"/><circle cx="178.7" cy="387.4" r="3.5"/><circle cx="179.4" cy="385.8" r="3.5"/><circle cx="179.3" cy="382.8" r="3.5"/><circle cx="179.3" cy="380.8" r="3.5"/><circle cx="179.7" cy="378.6" r="3.5"/><circle cx="180.0" cy="376.1" r="3.5"/><circle cx="182.2" cy="396.5" r="3.5"/><circle cx="181.8" cy="394.9" r="3.5"/><circle cx="182.1" cy="392.3" r="3.5"/><circle cx="181.3" cy="390.0" r="3.5"/><circle cx="181.1" cy="388.4" r="3.5"/><circle cx="181.8" cy="385.3" r="3.5"/><circle cx="181.5" cy="383.7" r="3.5"/><circle cx="181.7" cy="380.4" r="3.5"/><circle cx="182.2" cy="378.5" r="3.5"/><circle cx="182.5" cy="375.4" r="3.5"/><circle cx="184.5" cy="397.7" r="3.5"/><circle cx="184.7" cy="394.5" r="3.5"/><circle cx="183.7" cy="392.2" r="3.5"/><circle cx="183.5" cy="390.9" r="3.5"/><circle cx="184.1" cy="388.4" r="3.5"/><circle cx="183.8" cy="385.9" r="3.5"/><circle cx="183.9" cy="382.8" r="3.5"/><circle cx="184.4" cy="381.2" r="3.5"/><circle cx="183.4" cy="378.4" r="3.5"/><circle cx="184.2" cy="375.6" r="3.5"/><circle cx="185.7" cy="396.3" r="3.5"/><circle cx="185.9" cy="395.2" r="3.5"/><circle cx="186.5" cy="392.3" r="3.5"/><circle cx="185.5" cy="390.1" r="3.5"/><circle cx="186.6" cy="387.5" r="3.5"/><circle cx="186.0" cy="385.1" r="3.5"/><circle cx="186.8" cy="383.2" r="3.5"/><circle cx="185.6" cy="380.2" r="3.5"/><circle cx="186.1" cy="378.4" r="3.5"/><circle cx="186.5" cy="375.4" r="3.5"/><circle cx="188.9" cy="396.8" r="3.5"/><circle cx="188.3" cy="394.9" r="3.5"/><circle cx="189.3" cy="392.5" r="3.5"/><circle cx="188.7" cy="390.1" r="3.5"/><circle cx="188.5" cy="388.3" r="3.5"/><circle cx="189.4" cy="385.3" r="3.5"/><circle cx="188.1" cy="383.4" r="3.5"/><circle cx="188.1" cy="380.1" r="3.5"/><circle cx="189.2" cy="378.2" r="3.5"/><circle cx="189.1" cy="375.8" r="3.5"/><circle cx="190.8" cy="396.3" r="3.5"/><circle cx="190.1" cy="395.2" r="3.5"/><circle cx="191.1" cy="393.2" r="3.5"/><circle cx="190.2" cy="390.4" r="3.5"/><circle cx="190.7" cy="387.9" r="3.5"/><circle cx="190.3" cy="385.2" r="3.5"/><circle cx="190.9" cy="383.6" r="3.5"/><circle cx="190.3" cy="380.7" r="3.5"/><circle cx="191.4" cy="378.9" r="3.5"/><circle cx="192.6" cy="398.0" r="3.5"/><circle cx="194.0" cy="395.1" r="3.5"/><circle cx="192.5" cy="393.2" r="3.5"/><circle cx="193.0" cy="390.8" r="3.5"/><circle cx="193.4" cy="388.3" r="3.5"/><circle cx="192.7" cy="385.8" r="3.5"/><circle cx="192.8" cy="383.0" r="3.5"/><circle cx="193.8" cy="381.1" r="3.5"/><circle cx="192.7" cy="378.0" r="3.5"/><circle cx="193.0" cy="375.9" r="3.5"/><circle cx="194.9" cy="396.4" r="3.5"/><circle cx="195.9" cy="395.6" r="3.5"/><circle cx="194.8" cy="392.8" r="3.5"/><circle cx="195.9" cy="389.7" r="3.5"/><circle cx="196.0" cy="387.4" r="3.5"/><circle cx="195.7" cy="385.6" r="3.5"/><circle cx="195.7" cy="382.9" r="3.5"/><circle cx="195.4" cy="380.8" r="3.5"/><circle cx="195.4" cy="378.5" r="3.5"/><circle cx="195.4" cy="375.8" r="3.5"/><circle cx="198.0" cy="397.0" r="3.5"/><circle cx="197.4" cy="395.4" r="3.5"/><circle cx="198.2" cy="392.6" r="3.5"/><circle cx="197.3" cy="390.3" r="3.5"/><circle cx="197.2" cy="387.5" r="3.5"/><circle cx="197.7" cy="385.0" r="3.5"/><circle cx="197.7" cy="383.1" r="3.5"/><circle cx="197.1" cy="380.9" r="3.5"/><circle cx="197.1" cy="378.6" r="3.5"/><circle cx="198.2" cy="375.9" r="3.5"/><circle cx="200.1" cy="396.7" r="3.5"/><circle cx="200.8" cy="394.7" r="3.5"/><circle cx="200.7" cy="393.3" r="3.5"/><circle cx="200.5" cy="390.7" r="3.5"/><circle cx="199.6" cy="388.5" r="3.5"/><circle cx="200.1" cy="386.0" r="3.5"/><circle cx="200.8" cy="382.7" r="3.5"/><circle cx="200.6" cy="381.2" r="3.5"/><circle cx="199.4" cy="378.1" r="3.5"/><circle cx="200.5" cy="375.5" r="3.5"/><circle cx="202.0" cy="397.7" r="3.5"/><circle cx="201.8" cy="395.1" r="3.5"/><circle cx="203.1" cy="392.3" r="3.5"/><circle cx="202.0" cy="390.3" r="3.5"/><circle cx="202.1" cy="387.3" r="3.5"/><circle cx="201.9" cy="385.1" r="3.5"/><circle cx="203.1" cy="383.3" r="3.5"/><circle cx="203.0" cy="380.3" r="3.5"/><circle cx="202.9" cy="377.8" r="3.5"/><circle cx="204.9" cy="396.7" r="3.5"/><circle cx="205.3" cy="395.2" r="3.5"/><circle cx="204.8" cy="393.2" r="3.5"/><circle cx="204.1" cy="390.9" r="3.5"/><circle cx="204.9" cy="387.8" r="3.5"/><circle cx="205.2" cy="385.2" r="3.5"/><circle cx="205.5" cy="383.2" r="3.5"/><circle cx="204.5" cy="381.0" r="3.5"/><circle cx="204.6" cy="377.9" r="3.5"/><circle cx="206.3" cy="397.7" r="3.5"/><circle cx="206.6" cy="395.3" r="3.5"/><circle cx="207.8" cy="392.8" r="3.5"/><circle cx="207.3" cy="390.1" r="3.5"/><circle cx="206.2" cy="387.3" r="3.5"/><circle cx="206.4" cy="385.6" r="3.5"/><circle cx="206.9" cy="383.1" r="3.5"/><circle cx="207.6" cy="380.3" r="3.5"/><circle cx="209.5" cy="395.9" r="3.5"/><circle cx="208.5" cy="394.9" r="3.5"/><circle cx="208.7" cy="392.5" r="3.5"/><circle cx="208.9" cy="390.4" r="3.5"/><circle cx="209.4" cy="387.5" r="3.5"/><circle cx="209.5" cy="385.5" r="3.5"/><circle cx="208.7" cy="383.6" r="3.5"/><circle cx="208.9" cy="380.3" r="3.5"/><circle cx="211.8" cy="397.8" r="3.5"/><circle cx="212.1" cy="395.0" r="3.5"/><circle cx="211.2" cy="392.1" r="3.5"/><circle cx="211.8" cy="390.4" r="3.5"/><circle cx="211.4" cy="388.1" r="3.5"/><circle cx="211.5" cy="386.0" r="3.5"/><circle cx="212.0" cy="382.8" r="3.5"/><circle cx="213.2" cy="397.1" r="3.5"/><circle cx="213.7" cy="394.8" r="3.5"/><circle cx="213.2" cy="393.0" r="3.5"/><circle cx="213.1" cy="390.4" r="3.5"/><circle cx="214.6" cy="387.5" r="3.5"/><circle cx="216.4" cy="397.0" r="3.5"/><circle cx="216.4" cy="395.5" r="3.5"/><circle cx="215.7" cy="392.5" r="3.5"/><circle cx="215.9" cy="389.8" r="3.5"/><circle cx="216.8" cy="388.2" r="3.5"/><circle cx="217.7" cy="397.8" r="3.5"/><circle cx="218.9" cy="395.1" r="3.5"/><circle cx="218.9" cy="392.6" r="3.5"/><circle cx="220.2" cy="396.4" r="3.5"/><circle cx="220.1" cy="394.9" r="3.5"/><circle cx="221.2" cy="392.9" r="3.5"/><circle cx="114.5" cy="376.0" r="3.5"/><circle cx="124.5" cy="375.0" r="3.5"/><circle cx="131.0" cy="381.0" r="3.5"/><circle cx="127.0" cy="384.0" r="3.5"/><circle cx="219.5" cy="375.0" r="3.5"/><circle cx="235.5" cy="373.0" r="3.5"/><circle cx="235.5" cy="383.0" r="3.5"/><circle cx="235.5" cy="392.0" r="3.5"/><circle cx="225.4" cy="388.8" r="3.5"/><circle cx="217.5" cy="392.7" r="3.5"/><circle cx="208.5" cy="375.0" r="3.5"/><circle cx="151.7" cy="373.0" r="3.5"/><circle cx="123.9" cy="375.0" r="3.5"/><circle cx="114.9" cy="376.0" r="3.5"/><circle cx="245.5" cy="376.0" r="3.5"/><circle cx="249.0" cy="389.0" r="3.5"/><circle cx="246.5" cy="393.0" r="3.5"/><circle cx="247.5" cy="397.5" r="3.5"/><circle cx="257.5" cy="387.0" r="3.5"/><circle cx="257.5" cy="395.5" r="3.5"/><circle cx="262.5" cy="374.0" r="3.5"/><circle cx="265.5" cy="397.0" r="3.5"/><circle cx="279.5" cy="377.5" r="3.5"/><circle cx="279.5" cy="384.5" r="3.5"/><circle cx="286.8" cy="388.5" r="3.5"/><circle cx="278.0" cy="396.5" r="3.5"/><circle cx="280.5" cy="396.5" r="3.5"/><circle cx="288.5" cy="397.5" r="3.5"/><circle cx="303.5" cy="388.8" r="3.5"/><circle cx="305.0" cy="393.0" r="3.5"/><circle cx="317.7" cy="393.7" r="3.5"/><circle cx="321.7" cy="391.1" r="3.5"/><circle cx="344.6" cy="386.8" r="3.5"/><circle cx="344.6" cy="392.7" r="3.5"/><circle cx="344.6" cy="397.7" r="3.5"/><circle cx="349.6" cy="386.8" r="3.5"/><circle cx="354.6" cy="383.2" r="3.5"/><circle cx="354.6" cy="393.7" r="3.5"/><circle cx="350.6" cy="396.7" r="3.5"/><circle cx="368.5" cy="386.8" r="3.5"/><circle cx="368.5" cy="396.7" r="3.5"/><circle cx="387.4" cy="379.8" r="3.5"/><circle cx="390.4" cy="384.8" r="3.5"/><circle cx="391.4" cy="390.7" r="3.5"/><circle cx="393.4" cy="396.7" r="3.5"/><circle cx="372.8" cy="376.8" r="3.5"/><circle cx="372.7" cy="380.8" r="3.5"/><circle cx="372.3" cy="384.8" r="3.5"/><circle cx="372.5" cy="388.7" r="3.5"/><circle cx="372.4" cy="392.7" r="3.5"/><circle cx="372.7" cy="396.7" r="3.5"/><circle cx="413.6" cy="372.4" r="3.5"/><circle cx="413.6" cy="381.2" r="3.5"/><circle cx="413.6" cy="395.7" r="3.5"/><circle cx="426.5" cy="372.4" r="3.5"/><circle cx="427.9" cy="390.7" r="3.5"/><circle cx="457.4" cy="393.1" r="3.5"/><circle cx="460.8" cy="390.3" r="3.5"/><circle cx="482.3" cy="389.2" r="3.5"/><circle cx="489.3" cy="390.7" r="3.5"/><circle cx="501.6" cy="389.7" r="3.5"/><circle cx="502.6" cy="395.7" r="3.5"/><circle cx="511.6" cy="387.2" r="3.5"/><circle cx="524.5" cy="372.4" r="3.5"/><circle cx="524.5" cy="380.4" r="3.5"/><circle cx="524.5" cy="394.7" r="3.5"/><circle cx="546.4" cy="376.8" r="3.5"/><circle cx="568.4" cy="374.8" r="3.5"/><circle cx="568.2" cy="379.2" r="3.5"/><circle cx="568.5" cy="383.6" r="3.5"/><circle cx="568.8" cy="387.9" r="3.5"/><circle cx="568.2" cy="392.3" r="3.5"/><circle cx="568.7" cy="396.7" r="3.5"/><circle cx="599.3" cy="373.2" r="3.5"/><circle cx="587.3" cy="383.4" r="3.5"/><circle cx="593.3" cy="390.3" r="3.5"/><circle cx="611.6" cy="392.7" r="3.5"/><circle cx="615.6" cy="395.7" r="3.5"/><circle cx="618.6" cy="391.1" r="3.5"/><circle cx="392.0" cy="394.0" r="3.5"/><circle cx="394.5" cy="398.0" r="3.5"/><circle cx="348.0" cy="392.0" r="3.5"/><circle cx="352.0" cy="396.0" r="3.5"/><circle cx="346.0" cy="395.0" r="3.5"/><circle cx="371.0" cy="391.0" r="3.5"/><circle cx="374.0" cy="394.0" r="3.5"/><circle cx="369.5" cy="397.5" r="3.5"/><circle cx="376.5" cy="394.0" r="3.5"/><circle cx="372.0" cy="386.0" r="3.5"/><circle cx="368.0" cy="392.0" r="3.5"/></g>
<g fill="#6e0505"><circle cx="213.5" cy="80.5" r="4.7"/><circle cx="235.4" cy="153.3" r="4.7"/><circle cx="235.4" cy="173.3" r="4.7"/><circle cx="235.4" cy="189.2" r="4.7"/><circle cx="235.4" cy="201.4" r="4.7"/><circle cx="235.4" cy="217.3" r="4.7"/><circle cx="235.4" cy="221.7" r="4.7"/><circle cx="235.4" cy="225.5" r="4.7"/><circle cx="96.4" cy="267.3" r="4.7"/><circle cx="96.4" cy="297.7" r="4.7"/><circle cx="96.4" cy="301.7" r="4.7"/><circle cx="101.3" cy="311.3" r="4.7"/><circle cx="106.5" cy="273.4" r="4.7"/><circle cx="107.9" cy="279.2" r="4.7"/><circle cx="106.9" cy="282.8" r="4.7"/><circle cx="112.9" cy="274.8" r="4.7"/><circle cx="108.1" cy="291.4" r="4.7"/><circle cx="125.3" cy="251.3" r="4.7"/><circle cx="123.9" cy="257.9" r="4.7"/><circle cx="119.9" cy="258.5" r="4.7"/><circle cx="122.5" cy="263.3" r="4.7"/><circle cx="121.9" cy="286.4" r="4.7"/><circle cx="122.9" cy="289.8" r="4.7"/><circle cx="118.9" cy="292.2" r="4.7"/><circle cx="122.5" cy="294.8" r="4.7"/><circle cx="133.4" cy="275.2" r="4.7"/><circle cx="146.4" cy="255.3" r="4.7"/><circle cx="152.1" cy="280.2" r="4.7"/><circle cx="145.8" cy="287.2" r="4.7"/><circle cx="147.4" cy="296.7" r="4.7"/><circle cx="121.5" cy="319.3" r="4.7"/><circle cx="155.3" cy="322.6" r="4.7"/><circle cx="170.3" cy="310.3" r="4.7"/><circle cx="190.1" cy="244.0" r="4.7"/><circle cx="189.9" cy="247.2" r="4.7"/><circle cx="190.3" cy="250.5" r="4.7"/><circle cx="189.9" cy="253.8" r="4.7"/><circle cx="190.2" cy="257.0" r="4.7"/><circle cx="190.2" cy="267.3" r="4.7"/><circle cx="190.2" cy="279.4" r="4.7"/><circle cx="190.2" cy="307.7" r="4.7"/><circle cx="190.2" cy="319.3" r="4.7"/><circle cx="195.6" cy="307.7" r="4.7"/><circle cx="213.4" cy="243.0" r="4.7"/><circle cx="213.1" cy="246.3" r="4.7"/><circle cx="213.5" cy="249.7" r="4.7"/><circle cx="213.1" cy="253.0" r="4.7"/><circle cx="213.4" cy="256.3" r="4.7"/><circle cx="213.2" cy="259.7" r="4.7"/><circle cx="213.2" cy="263.0" r="4.7"/><circle cx="213.5" cy="272.8" r="4.7"/><circle cx="213.5" cy="292.8" r="4.7"/><circle cx="213.5" cy="304.7" r="4.7"/><circle cx="213.4" cy="315.7" r="4.7"/><circle cx="213.8" cy="319.3" r="4.7"/><circle cx="213.2" cy="322.9" r="4.7"/><circle cx="213.3" cy="326.4" r="4.7"/><circle cx="213.6" cy="330.0" r="4.7"/><circle cx="224.7" cy="282.2" r="4.7"/><circle cx="224.7" cy="307.3" r="4.7"/><circle cx="235.4" cy="236.0" r="4.7"/><circle cx="235.4" cy="244.6" r="4.7"/><circle cx="235.8" cy="270.8" r="4.7"/><circle cx="235.5" cy="274.8" r="4.7"/><circle cx="235.3" cy="278.8" r="4.7"/><circle cx="235.8" cy="282.8" r="4.7"/><circle cx="235.0" cy="296.7" r="4.7"/><circle cx="235.7" cy="300.0" r="4.7"/><circle cx="235.2" cy="303.4" r="4.7"/><circle cx="235.1" cy="306.7" r="4.7"/><circle cx="235.1" cy="317.7" r="4.7"/><circle cx="235.2" cy="321.1" r="4.7"/><circle cx="235.7" cy="324.5" r="4.7"/><circle cx="96.5" cy="339.5" r="4.7"/><circle cx="91.0" cy="352.0" r="4.7"/><circle cx="92.5" cy="356.0" r="4.7"/><circle cx="91.0" cy="359.5" r="4.7"/><circle cx="94.0" cy="363.0" r="4.7"/><circle cx="98.0" cy="366.0" r="4.7"/><circle cx="102.0" cy="350.0" r="4.7"/><circle cx="104.0" cy="354.0" r="4.7"/><circle cx="103.0" cy="358.0" r="4.7"/><circle cx="100.5" cy="362.0" r="4.7"/><circle cx="102.0" cy="366.0" r="4.7"/><circle cx="96.0" cy="369.0" r="4.7"/><circle cx="100.0" cy="369.5" r="4.7"/><circle cx="92.0" cy="349.0" r="4.7"/><circle cx="111.0" cy="335.5" r="4.7"/><circle cx="117.5" cy="329.0" r="4.7"/><circle cx="118.0" cy="337.5" r="4.7"/><circle cx="119.5" cy="368.0" r="4.7"/><circle cx="129.0" cy="349.0" r="4.7"/><circle cx="135.5" cy="348.5" r="4.7"/><circle cx="141.0" cy="348.5" r="4.7"/><circle cx="135.5" cy="356.5" r="4.7"/><circle cx="156.0" cy="323.5" r="4.7"/><circle cx="145.5" cy="337.5" r="4.7"/><circle cx="153.0" cy="337.5" r="4.7"/><circle cx="147.0" cy="341.5" r="4.7"/><circle cx="149.0" cy="339.0" r="4.7"/><circle cx="145.0" cy="365.0" r="4.7"/><circle cx="147.5" cy="358.0" r="4.7"/><circle cx="153.0" cy="354.5" r="4.7"/><circle cx="159.0" cy="350.5" r="4.7"/><circle cx="165.0" cy="349.0" r="4.7"/><circle cx="168.0" cy="348.5" r="4.7"/><circle cx="144.8" cy="369.0" r="4.7"/><circle cx="144.8" cy="372.8" r="4.7"/><circle cx="168.0" cy="333.5" r="4.7"/><circle cx="190.6" cy="335.0" r="4.7"/><circle cx="190.6" cy="342.0" r="4.7"/><circle cx="193.6" cy="347.0" r="4.7"/><circle cx="191.6" cy="353.0" r="4.7"/><circle cx="191.6" cy="364.8" r="4.7"/><circle cx="196.6" cy="359.9" r="4.7"/><circle cx="202.5" cy="354.9" r="4.7"/><circle cx="207.5" cy="358.9" r="4.7"/><circle cx="213.5" cy="356.9" r="4.7"/><circle cx="199.5" cy="366.8" r="4.7"/><circle cx="205.5" cy="366.8" r="4.7"/><circle cx="196.6" cy="371.8" r="4.7"/><circle cx="202.5" cy="371.8" r="4.7"/><circle cx="209.5" cy="362.9" r="4.7"/><circle cx="195.0" cy="367.0" r="4.7"/><circle cx="200.0" cy="362.0" r="4.7"/><circle cx="226.0" cy="361.3" r="4.7"/><circle cx="213.5" cy="330.0" r="4.7"/><circle cx="235.6" cy="336.5" r="4.7"/><circle cx="235.6" cy="347.0" r="4.7"/><circle cx="245.4" cy="367.0" r="4.7"/><circle cx="247.4" cy="361.0" r="4.7"/><circle cx="198.6" cy="362.9" r="4.7"/><circle cx="201.5" cy="360.9" r="4.7"/><circle cx="204.5" cy="363.9" r="4.7"/><circle cx="207.5" cy="366.8" r="4.7"/><circle cx="210.5" cy="360.9" r="4.7"/><circle cx="199.6" cy="369.8" r="4.7"/><circle cx="193.6" cy="368.8" r="4.7"/><circle cx="205.5" cy="369.8" r="4.7"/><circle cx="212.5" cy="361.9" r="4.7"/><circle cx="215.5" cy="358.9" r="4.7"/><circle cx="196.6" cy="365.8" r="4.7"/><circle cx="202.5" cy="366.8" r="4.7"/><circle cx="191.6" cy="361.9" r="4.7"/><circle cx="194.6" cy="356.9" r="4.7"/><circle cx="302.2" cy="103.4" r="4.7"/><circle cx="302.2" cy="105.4" r="4.7"/><circle cx="301.9" cy="121.7" r="4.7"/><circle cx="302.3" cy="124.9" r="4.7"/><circle cx="302.3" cy="128.2" r="4.7"/><circle cx="302.1" cy="131.4" r="4.7"/><circle cx="302.2" cy="134.6" r="4.7"/><circle cx="257.3" cy="198.4" r="4.7"/><circle cx="257.2" cy="202.0" r="4.7"/><circle cx="257.4" cy="205.6" r="4.7"/><circle cx="257.7" cy="209.2" r="4.7"/><circle cx="257.5" cy="212.8" r="4.7"/><circle cx="257.5" cy="216.4" r="4.7"/><circle cx="257.7" cy="220.0" r="4.7"/><circle cx="257.6" cy="223.6" r="4.7"/><circle cx="257.4" cy="227.2" r="4.7"/><circle cx="257.8" cy="230.7" r="4.7"/><circle cx="257.8" cy="234.3" r="4.7"/><circle cx="257.4" cy="237.9" r="4.7"/><circle cx="257.7" cy="241.5" r="4.7"/><circle cx="257.6" cy="245.1" r="4.7"/><circle cx="257.9" cy="248.7" r="4.7"/><circle cx="257.8" cy="252.3" r="4.7"/><circle cx="257.4" cy="255.9" r="4.7"/><circle cx="279.9" cy="187.8" r="4.7"/><circle cx="279.2" cy="191.4" r="4.7"/><circle cx="279.4" cy="195.0" r="4.7"/><circle cx="279.7" cy="198.5" r="4.7"/><circle cx="279.2" cy="202.1" r="4.7"/><circle cx="279.5" cy="205.7" r="4.7"/><circle cx="279.1" cy="209.2" r="4.7"/><circle cx="279.6" cy="212.8" r="4.7"/><circle cx="279.7" cy="216.4" r="4.7"/><circle cx="279.6" cy="220.0" r="4.7"/><circle cx="279.8" cy="223.6" r="4.7"/><circle cx="279.4" cy="227.1" r="4.7"/><circle cx="279.7" cy="230.7" r="4.7"/><circle cx="279.6" cy="234.3" r="4.7"/><circle cx="279.6" cy="237.8" r="4.7"/><circle cx="279.5" cy="241.4" r="4.7"/><circle cx="279.8" cy="245.0" r="4.7"/><circle cx="302.2" cy="144.0" r="4.7"/><circle cx="302.2" cy="149.0" r="4.7"/><circle cx="302.6" cy="159.0" r="4.7"/><circle cx="302.2" cy="163.0" r="4.7"/><circle cx="302.3" cy="166.9" r="4.7"/><circle cx="301.8" cy="170.9" r="4.7"/><circle cx="302.4" cy="183.2" r="4.7"/><circle cx="302.3" cy="186.7" r="4.7"/><circle cx="302.6" cy="190.2" r="4.7"/><circle cx="302.5" cy="193.8" r="4.7"/><circle cx="302.0" cy="197.3" r="4.7"/><circle cx="302.1" cy="200.8" r="4.7"/><circle cx="302.3" cy="204.3" r="4.7"/><circle cx="301.8" cy="207.9" r="4.7"/><circle cx="302.2" cy="211.4" r="4.7"/><circle cx="301.9" cy="214.9" r="4.7"/><circle cx="301.9" cy="218.4" r="4.7"/><circle cx="301.8" cy="222.0" r="4.7"/><circle cx="302.4" cy="225.5" r="4.7"/><circle cx="301.9" cy="229.0" r="4.7"/><circle cx="302.0" cy="232.5" r="4.7"/><circle cx="302.1" cy="236.0" r="4.7"/><circle cx="302.5" cy="239.6" r="4.7"/><circle cx="301.9" cy="243.1" r="4.7"/><circle cx="302.2" cy="246.6" r="4.7"/><circle cx="302.2" cy="250.1" r="4.7"/><circle cx="302.5" cy="253.7" r="4.7"/><circle cx="302.5" cy="257.2" r="4.7"/><circle cx="302.5" cy="260.7" r="4.7"/><circle cx="302.0" cy="264.2" r="4.7"/><circle cx="302.1" cy="267.8" r="4.7"/><circle cx="302.1" cy="271.3" r="4.7"/><circle cx="302.5" cy="274.8" r="4.7"/><circle cx="324.7" cy="161.3" r="4.7"/><circle cx="325.1" cy="186.8" r="4.7"/><circle cx="324.4" cy="190.4" r="4.7"/><circle cx="324.4" cy="194.0" r="4.7"/><circle cx="324.5" cy="197.7" r="4.7"/><circle cx="324.5" cy="201.3" r="4.7"/><circle cx="324.7" cy="204.9" r="4.7"/><circle cx="324.8" cy="208.5" r="4.7"/><circle cx="324.5" cy="212.1" r="4.7"/><circle cx="324.3" cy="215.7" r="4.7"/><circle cx="324.6" cy="219.4" r="4.7"/><circle cx="324.6" cy="223.0" r="4.7"/><circle cx="324.8" cy="226.6" r="4.7"/><circle cx="325.1" cy="235.0" r="4.7"/><circle cx="324.9" cy="242.8" r="4.7"/><circle cx="324.7" cy="250.5" r="4.7"/><circle cx="324.8" cy="258.2" r="4.7"/><circle cx="324.8" cy="266.0" r="4.7"/><circle cx="346.6" cy="161.3" r="4.7"/><circle cx="346.6" cy="185.8" r="4.7"/><circle cx="346.6" cy="194.4" r="4.7"/><circle cx="346.6" cy="231.6" r="4.7"/><circle cx="346.6" cy="234.0" r="4.7"/><circle cx="346.6" cy="248.3" r="4.7"/><circle cx="390.0" cy="215.7" r="4.7"/><circle cx="390.7" cy="219.0" r="4.7"/><circle cx="390.6" cy="222.4" r="4.7"/><circle cx="390.7" cy="225.7" r="4.7"/><circle cx="390.6" cy="229.0" r="4.7"/><circle cx="390.3" cy="232.3" r="4.7"/><circle cx="390.3" cy="235.7" r="4.7"/><circle cx="390.1" cy="239.0" r="4.7"/><circle cx="257.6" cy="271.8" r="4.7"/><circle cx="255.4" cy="279.2" r="4.7"/><circle cx="257.4" cy="301.7" r="4.7"/><circle cx="257.4" cy="306.7" r="4.7"/><circle cx="279.5" cy="256.3" r="4.7"/><circle cx="279.5" cy="269.9" r="4.7"/><circle cx="275.5" cy="304.1" r="4.7"/><circle cx="302.2" cy="291.8" r="4.7"/><circle cx="302.2" cy="296.7" r="4.7"/><circle cx="302.2" cy="311.7" r="4.7"/><circle cx="302.2" cy="323.6" r="4.7"/><circle cx="302.2" cy="327.0" r="4.7"/><circle cx="368.5" cy="236.4" r="4.7"/><circle cx="368.5" cy="303.7" r="4.7"/><circle cx="368.5" cy="324.6" r="4.7"/><circle cx="372.5" cy="325.6" r="4.7"/><circle cx="390.4" cy="249.0" r="4.7"/><circle cx="390.4" cy="257.9" r="4.7"/><circle cx="390.5" cy="267.9" r="4.7"/><circle cx="390.0" cy="276.3" r="4.7"/><circle cx="390.1" cy="284.8" r="4.7"/><circle cx="390.2" cy="293.2" r="4.7"/><circle cx="390.1" cy="301.7" r="4.7"/><circle cx="390.3" cy="312.7" r="4.7"/><circle cx="390.0" cy="316.2" r="4.7"/><circle cx="390.0" cy="319.6" r="4.7"/><circle cx="390.1" cy="323.1" r="4.7"/><circle cx="390.1" cy="326.5" r="4.7"/><circle cx="390.3" cy="330.0" r="4.7"/><circle cx="390.0" cy="339.0" r="4.7"/><circle cx="390.7" cy="342.0" r="4.7"/><circle cx="390.5" cy="345.0" r="4.7"/><circle cx="390.1" cy="348.0" r="4.7"/><circle cx="390.4" cy="361.9" r="4.7"/><circle cx="245.0" cy="372.0" r="4.7"/><circle cx="247.0" cy="369.0" r="4.7"/><circle cx="249.0" cy="365.5" r="4.7"/><circle cx="250.0" cy="361.5" r="4.7"/><circle cx="249.5" cy="358.0" r="4.7"/><circle cx="254.5" cy="359.0" r="4.7"/><circle cx="252.0" cy="362.5" r="4.7"/><circle cx="247.0" cy="366.0" r="4.7"/><circle cx="279.5" cy="363.9" r="4.7"/><circle cx="279.5" cy="370.0" r="4.7"/><circle cx="368.8" cy="327.0" r="4.7"/><circle cx="368.9" cy="330.3" r="4.7"/><circle cx="368.9" cy="333.7" r="4.7"/><circle cx="368.7" cy="337.0" r="4.7"/><circle cx="372.8" cy="327.0" r="4.7"/><circle cx="372.9" cy="330.3" r="4.7"/><circle cx="372.5" cy="333.7" r="4.7"/><circle cx="372.5" cy="337.0" r="4.7"/><circle cx="371.2" cy="347.0" r="4.7"/><circle cx="371.2" cy="350.7" r="4.7"/><circle cx="371.4" cy="354.4" r="4.7"/><circle cx="371.3" cy="358.1" r="4.7"/><circle cx="371.8" cy="361.7" r="4.7"/><circle cx="371.2" cy="365.4" r="4.7"/><circle cx="371.1" cy="369.1" r="4.7"/><circle cx="371.9" cy="372.8" r="4.7"/><circle cx="367.5" cy="370.8" r="4.7"/><circle cx="413.6" cy="75.3" r="4.7"/><circle cx="415.6" cy="82.8" r="4.7"/><circle cx="415.6" cy="91.8" r="4.7"/><circle cx="428.3" cy="77.3" r="4.7"/><circle cx="428.3" cy="85.8" r="4.7"/><circle cx="428.3" cy="89.8" r="4.7"/><circle cx="440.5" cy="70.5" r="4.7"/><circle cx="440.5" cy="74.5" r="4.7"/><circle cx="452.4" cy="99.2" r="4.7"/><circle cx="454.4" cy="123.7" r="4.7"/><circle cx="454.4" cy="128.7" r="4.7"/><circle cx="428.3" cy="145.4" r="4.7"/><circle cx="428.3" cy="169.0" r="4.7"/><circle cx="428.3" cy="191.4" r="4.7"/><circle cx="435.3" cy="228.2" r="4.7"/><circle cx="478.3" cy="217.7" r="4.7"/><circle cx="478.0" cy="221.0" r="4.7"/><circle cx="478.3" cy="224.3" r="4.7"/><circle cx="477.9" cy="227.6" r="4.7"/><circle cx="413.6" cy="262.9" r="4.7"/><circle cx="414.0" cy="266.1" r="4.7"/><circle cx="413.9" cy="269.4" r="4.7"/><circle cx="413.8" cy="272.6" r="4.7"/><circle cx="413.4" cy="275.8" r="4.7"/><circle cx="413.5" cy="286.8" r="4.7"/><circle cx="413.3" cy="290.2" r="4.7"/><circle cx="413.8" cy="293.6" r="4.7"/><circle cx="413.6" cy="296.9" r="4.7"/><circle cx="413.8" cy="300.3" r="4.7"/><circle cx="413.5" cy="303.7" r="4.7"/><circle cx="413.4" cy="314.7" r="4.7"/><circle cx="413.8" cy="318.1" r="4.7"/><circle cx="414.0" cy="321.5" r="4.7"/><circle cx="413.9" cy="324.9" r="4.7"/><circle cx="413.8" cy="328.2" r="4.7"/><circle cx="413.9" cy="331.6" r="4.7"/><circle cx="413.8" cy="335.0" r="4.7"/><circle cx="413.6" cy="357.3" r="4.7"/><circle cx="435.3" cy="298.3" r="4.7"/><circle cx="457.2" cy="273.2" r="4.7"/><circle cx="457.0" cy="286.8" r="4.7"/><circle cx="457.2" cy="290.0" r="4.7"/><circle cx="457.1" cy="293.2" r="4.7"/><circle cx="456.8" cy="296.3" r="4.7"/><circle cx="456.8" cy="299.5" r="4.7"/><circle cx="457.0" cy="302.7" r="4.7"/><circle cx="479.3" cy="242.0" r="4.7"/><circle cx="479.3" cy="248.0" r="4.7"/><circle cx="479.3" cy="289.8" r="4.7"/><circle cx="479.1" cy="302.7" r="4.7"/><circle cx="479.5" cy="306.0" r="4.7"/><circle cx="479.7" cy="309.4" r="4.7"/><circle cx="479.3" cy="312.7" r="4.7"/><circle cx="479.6" cy="321.6" r="4.7"/><circle cx="479.7" cy="324.3" r="4.7"/><circle cx="479.7" cy="327.0" r="4.7"/><circle cx="479.2" cy="338.0" r="4.7"/><circle cx="479.1" cy="342.0" r="4.7"/><circle cx="479.1" cy="346.0" r="4.7"/><circle cx="479.3" cy="360.5" r="4.7"/><circle cx="502.0" cy="287.8" r="4.7"/><circle cx="502.0" cy="291.4" r="4.7"/><circle cx="502.3" cy="294.9" r="4.7"/><circle cx="502.5" cy="298.5" r="4.7"/><circle cx="502.5" cy="302.0" r="4.7"/><circle cx="502.2" cy="305.6" r="4.7"/><circle cx="502.3" cy="309.1" r="4.7"/><circle cx="502.4" cy="312.7" r="4.7"/><circle cx="501.9" cy="321.6" r="4.7"/><circle cx="502.3" cy="325.3" r="4.7"/><circle cx="502.5" cy="328.9" r="4.7"/><circle cx="502.4" cy="332.6" r="4.7"/><circle cx="502.4" cy="336.2" r="4.7"/><circle cx="502.2" cy="339.9" r="4.7"/><circle cx="501.9" cy="343.6" r="4.7"/><circle cx="502.4" cy="347.2" r="4.7"/><circle cx="502.1" cy="350.9" r="4.7"/><circle cx="502.4" cy="365.8" r="4.7"/><circle cx="502.6" cy="370.8" r="4.7"/><circle cx="524.5" cy="266.9" r="4.7"/><circle cx="524.5" cy="289.8" r="4.7"/><circle cx="524.5" cy="297.7" r="4.7"/><circle cx="524.4" cy="333.0" r="4.7"/><circle cx="524.4" cy="338.0" r="4.7"/><circle cx="524.9" cy="353.9" r="4.7"/><circle cx="524.7" cy="357.9" r="4.7"/><circle cx="524.2" cy="361.8" r="4.7"/><circle cx="524.2" cy="365.8" r="4.7"/><circle cx="546.4" cy="263.3" r="4.7"/><circle cx="546.1" cy="296.7" r="4.7"/><circle cx="546.7" cy="300.2" r="4.7"/><circle cx="546.6" cy="303.7" r="4.7"/><circle cx="546.1" cy="307.1" r="4.7"/><circle cx="546.7" cy="310.6" r="4.7"/><circle cx="546.8" cy="314.1" r="4.7"/><circle cx="546.5" cy="317.6" r="4.7"/><circle cx="546.3" cy="321.1" r="4.7"/><circle cx="546.4" cy="324.6" r="4.7"/><circle cx="546.1" cy="328.0" r="4.7"/><circle cx="546.0" cy="331.5" r="4.7"/><circle cx="546.8" cy="335.0" r="4.7"/><circle cx="546.5" cy="345.0" r="4.7"/><circle cx="546.4" cy="348.0" r="4.7"/><circle cx="546.7" cy="351.0" r="4.7"/><circle cx="546.3" cy="360.9" r="4.7"/><circle cx="546.7" cy="365.8" r="4.7"/><circle cx="568.4" cy="290.4" r="4.7"/><circle cx="568.4" cy="305.7" r="4.7"/><circle cx="568.4" cy="310.7" r="4.7"/><circle cx="568.7" cy="325.6" r="4.7"/><circle cx="568.2" cy="329.0" r="4.7"/><circle cx="568.2" cy="332.4" r="4.7"/><circle cx="568.2" cy="335.8" r="4.7"/><circle cx="568.2" cy="339.2" r="4.7"/><circle cx="568.5" cy="342.6" r="4.7"/><circle cx="568.2" cy="346.0" r="4.7"/><circle cx="568.3" cy="349.4" r="4.7"/><circle cx="568.1" cy="352.8" r="4.7"/><circle cx="568.7" cy="356.2" r="4.7"/><circle cx="568.3" cy="359.6" r="4.7"/><circle cx="568.4" cy="363.0" r="4.7"/><circle cx="568.5" cy="366.4" r="4.7"/><circle cx="568.7" cy="369.8" r="4.7"/><circle cx="599.7" cy="320.6" r="4.7"/><circle cx="599.7" cy="324.6" r="4.7"/><circle cx="599.3" cy="327.0" r="4.7"/><circle cx="618.2" cy="370.2" r="4.7"/></g>
<rect x="662" y="94" width="1" height="1" fill="#1f77c4"/>
<circle cx="662.4" cy="188.4" r="2.5" fill="#60c860"/>
<circle cx="662.4" cy="283.4" r="3.5" fill="#cf6811"/>
<circle cx="662.4" cy="377.4" r="4.5" fill="#6e0505"/>
<g font-family="Liberation Sans, Arial, Helvetica, sans-serif" fill="#000">
<text transform="translate(378.2,22.7) scale(1.037,1)" font-size="21.2" text-anchor="middle">V1:Hrec_hoft_16384Hz (clusters)</text>
<text transform="translate(680.3,99.8) scale(1.06,1)" font-size="16.7"><tspan x="0" font-style="italic">SNR</tspan> <tspan x="39.9" dy="1.8" font-size="18">≥</tspan> <tspan x="55.94" dy="-1.8">5.0</tspan></text>
<text transform="translate(680.3,194.2) scale(1.06,1)" font-size="16.7"><tspan x="0" font-style="italic">SNR</tspan> <tspan x="39.9" dy="1.8" font-size="18">≥</tspan> <tspan x="55.94" dy="-1.8">8.0</tspan></text>
<text transform="translate(680.3,288.8) scale(1.06,1)" font-size="16.7"><tspan x="0" font-style="italic">SNR</tspan> <tspan x="39.9" dy="1.8" font-size="18">≥</tspan> <tspan x="55.94" dy="-1.8">10.0</tspan></text>
<text transform="translate(680.3,383.0) scale(1.06,1)" font-size="16.7"><tspan x="0" font-style="italic">SNR</tspan> <tspan x="39.9" dy="1.8" font-size="18">≥</tspan> <tspan x="55.94" dy="-1.8">20.0</tspan></text>
<text transform="translate(628.8,464.6) scale(1.047,1)" font-size="16.2" text-anchor="end">Frequency [Hz]</text>
<text transform="translate(20.3,84.6) rotate(-90) scale(0.985,1)" font-size="17" text-anchor="start">SNR</text>
<text transform="translate(83.6,55.0) scale(1.065,1)" font-size="15.7" text-anchor="end"><tspan x="-6.95">10</tspan><tspan x="0" dy="-6.8" font-size="12.3">5</tspan></text>
<text transform="translate(83.6,142.0) scale(1.065,1)" font-size="15.7" text-anchor="end"><tspan x="-6.95">10</tspan><tspan x="0" dy="-6.8" font-size="12.3">4</tspan></text>
<text transform="translate(83.6,230.0) scale(1.065,1)" font-size="15.7" text-anchor="end"><tspan x="-6.95">10</tspan><tspan x="0" dy="-6.8" font-size="12.3">3</tspan></text>
<text transform="translate(83.6,318.0) scale(1.065,1)" font-size="15.7" text-anchor="end"><tspan x="-6.95">10</tspan><tspan x="0" dy="-6.8" font-size="12.3">2</tspan></text>
<text transform="translate(83.6,115.5) scale(1.065,1)" font-size="15.7" text-anchor="end"><tspan x="-34.84">2</tspan><tspan x="-29.58" dy="1.5" font-size="18.8" text-anchor="middle">×</tspan><tspan x="-6.95" dy="-1.5">10</tspan><tspan x="0" dy="-6.8" font-size="12.3">4</tspan></text>
<text transform="translate(83.6,203.5) scale(1.065,1)" font-size="15.7" text-anchor="end"><tspan x="-34.84">2</tspan><tspan x="-29.58" dy="1.5" font-size="18.8" text-anchor="middle">×</tspan><tspan x="-6.95" dy="-1.5">10</tspan><tspan x="0" dy="-6.8" font-size="12.3">3</tspan></text>
<text transform="translate(83.6,291.5) scale(1.065,1)" font-size="15.7" text-anchor="end"><tspan x="-34.84">2</tspan><tspan x="-29.58" dy="1.5" font-size="18.8" text-anchor="middle">×</tspan><tspan x="-6.95" dy="-1.5">10</tspan><tspan x="0" dy="-6.8" font-size="12.3">2</tspan></text>
<text transform="translate(82.5,377.5) scale(1.065,1)" font-size="15.7" text-anchor="end">20</text>
<text transform="translate(82.5,404.5) scale(1.065,1)" font-size="15.7" text-anchor="end">10</text>
<text transform="translate(82.5,423.5) scale(1.065,1)" font-size="15.7" text-anchor="end">6</text>
<text transform="translate(115.5,448.3) scale(1.065,1)" font-size="15.7" text-anchor="middle">20</text>
<text transform="translate(161.5,448.3) scale(1.065,1)" font-size="15.7" text-anchor="middle">30</text>
<text transform="translate(193.5,448.3) scale(1.065,1)" font-size="15.7" text-anchor="middle">40</text>
<text transform="translate(310.8,448.3) scale(1.065,1)" font-size="15.7" text-anchor="end"><tspan x="-6.95">10</tspan><tspan x="0" dy="-6.8" font-size="12.3">2</tspan></text>
<text transform="translate(399.8,448.3) scale(1.065,1)" font-size="15.7" text-anchor="end"><tspan x="-34.84">2</tspan><tspan x="-29.58" dy="1.5" font-size="18.8" text-anchor="middle">×</tspan><tspan x="-6.95" dy="-1.5">10</tspan><tspan x="0" dy="-6.8" font-size="12.3">2</tspan></text>
<text transform="translate(571.8,448.3) scale(1.065,1)" font-size="15.7" text-anchor="end"><tspan x="-6.95">10</tspan><tspan x="0" dy="-6.8" font-size="12.3">3</tspan></text>
</g>
</svg>
</body></html>
